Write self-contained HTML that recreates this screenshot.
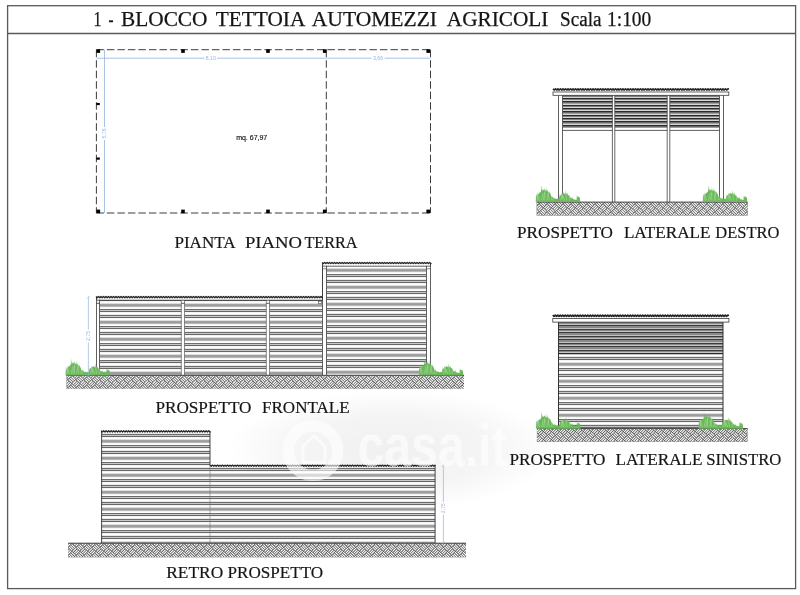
<!DOCTYPE html>
<html><head><meta charset="utf-8"><title>Blocco tettoia automezzi agricoli</title>
<style>html,body{margin:0;padding:0;background:#fff;}body{width:800px;height:595px;overflow:hidden;font-family:"Liberation Sans",sans-serif;}svg{display:block;}svg{will-change:transform;}</style>
</head><body>
<svg width="800" height="595" viewBox="0 0 800 595">
<defs>
<pattern id="gnd" patternUnits="userSpaceOnUse" width="11.3" height="11.3" patternTransform="rotate(45)">
<rect width="11.3" height="11.3" fill="#fff"/>
<g stroke="#3a3a3a" stroke-width="0.95">
<path d="M0 0.95H5.65M0 2.83H5.65M0 4.71H5.65"/>
<path d="M6.6 0V5.65M8.48 0V5.65M10.36 0V5.65"/>
<path d="M0.95 5.65V11.3M2.83 5.65V11.3M4.71 5.65V11.3"/>
<path d="M5.65 6.6H11.3M5.65 8.48H11.3M5.65 10.36H11.3"/>
</g>
</pattern>
<pattern id="slatL" patternUnits="userSpaceOnUse" width="10" height="3.5">
<rect width="10" height="3.5" fill="#fff"/>
<rect y="0" width="10" height="0.8" fill="#6e6e6e"/>
<rect y="0.8" width="10" height="1.0" fill="#c4c4c4"/>
<rect y="1.8" width="10" height="0.6" fill="#ececec"/>
</pattern>
<pattern id="slatD" patternUnits="userSpaceOnUse" width="10" height="3.37">
<rect width="10" height="3.37" fill="#cfcfcf"/>
<rect y="0" width="10" height="1.0" fill="#2a2a2a"/>
<rect y="1.0" width="10" height="1.2" fill="#777"/>
</pattern>
<pattern id="slatM" patternUnits="userSpaceOnUse" width="10" height="3.3">
<rect width="10" height="3.3" fill="#d0d0d0"/>
<rect y="0" width="10" height="1.0" fill="#444"/>
<rect y="1.0" width="10" height="1.2" fill="#8a8a8a"/>
</pattern>
<radialGradient id="halo" cx="0.5" cy="0.5" r="0.5">
<stop offset="0" stop-color="#000" stop-opacity="0.06"/>
<stop offset="0.6" stop-color="#000" stop-opacity="0.04"/>
<stop offset="1" stop-color="#000" stop-opacity="0"/>
</radialGradient>
</defs>
<rect width="800" height="595" fill="#fff"/>
<ellipse cx="392" cy="450" rx="165" ry="60" fill="url(#halo)"/>
<g fill="none" stroke="#5a5a5a" stroke-width="1.3">
<rect x="7.6" y="5.7" width="788" height="582.9"/>
<path d="M7.6 33.5H795.6"/>
</g>
<text x="93.6" y="25.9" font-family="'Liberation Serif', serif" font-size="20.5" fill="#151515" stroke="#151515" stroke-width="0.25" textLength="8.0" lengthAdjust="spacingAndGlyphs">1</text>
<text x="108.6" y="25.9" font-family="'Liberation Serif', serif" font-size="20.5" fill="#151515" stroke="#151515" stroke-width="0.25" textLength="5.0" lengthAdjust="spacingAndGlyphs">-</text>
<text x="121" y="25.9" font-family="'Liberation Serif', serif" font-size="20.5" fill="#151515" stroke="#151515" stroke-width="0.25" textLength="86.5" lengthAdjust="spacingAndGlyphs">BLOCCO</text>
<text x="215.8" y="25.9" font-family="'Liberation Serif', serif" font-size="20.5" fill="#151515" stroke="#151515" stroke-width="0.25" textLength="89.5" lengthAdjust="spacingAndGlyphs">TETTOIA</text>
<text x="311.8" y="25.9" font-family="'Liberation Serif', serif" font-size="20.5" fill="#151515" stroke="#151515" stroke-width="0.25" textLength="125.2" lengthAdjust="spacingAndGlyphs">AUTOMEZZI</text>
<text x="446.8" y="25.9" font-family="'Liberation Serif', serif" font-size="20.5" fill="#151515" stroke="#151515" stroke-width="0.25" textLength="101.6" lengthAdjust="spacingAndGlyphs">AGRICOLI</text>
<text x="560" y="25.9" font-family="'Liberation Serif', serif" font-size="20.5" fill="#151515" stroke="#151515" stroke-width="0.25" textLength="41.5" lengthAdjust="spacingAndGlyphs">Scala</text>
<text x="607" y="25.9" font-family="'Liberation Serif', serif" font-size="20.5" fill="#151515" stroke="#151515" stroke-width="0.25" textLength="44.3" lengthAdjust="spacingAndGlyphs">1:100</text>
<g fill="none" stroke="#333" stroke-width="0.95" stroke-dasharray="7.5 3">
<path d="M96.4 49.7H430.5"/>
<path d="M96.4 213H430.5"/>
<path d="M96.4 49.7V213"/>
<path d="M326.3 49.7V213"/>
<path d="M430.5 49.7V213"/>
</g>
<g fill="none" stroke="#93b4de" stroke-width="0.8">
<path d="M96.4 58.2H204.5M217 58.2H371.5M384.5 58.2H430.5"/>
<path d="M104.5 49.7V127M104.5 140V213"/>
</g>
<g font-family="'Liberation Sans', sans-serif" font-size="5.2" fill="#93b4de" text-anchor="middle">
<text x="210.8" y="60">8,10</text>
<text x="378" y="60">3,66</text>
<text transform="translate(106.2 133.5) rotate(-90)">5,76</text>
</g>
<g fill="#000">
<rect x="96.5" y="49.3" width="3.6" height="3.6"/>
<rect x="96.5" y="209.6" width="3.6" height="3.6"/>
<rect x="181.2" y="49.3" width="3.6" height="3.6"/>
<rect x="181.2" y="209.6" width="3.6" height="3.6"/>
<rect x="266.2" y="49.3" width="3.6" height="3.6"/>
<rect x="266.2" y="209.6" width="3.6" height="3.6"/>
<rect x="322.9" y="49.3" width="3.6" height="3.6"/>
<rect x="322.9" y="209.6" width="3.6" height="3.6"/>
<rect x="426.4" y="49.3" width="3.6" height="3.6"/>
<rect x="426.4" y="209.6" width="3.6" height="3.6"/>
<rect x="96.4" y="102.9" width="3.4" height="2.2"/>
<rect x="96.4" y="157.5" width="3.4" height="2.2"/>
</g>
<text x="251.7" y="139.6" font-family="'Liberation Sans', sans-serif" font-size="7" fill="#111" stroke="#111" stroke-width="0.15" text-anchor="middle">mq. 67,97</text>
<text x="174.4" y="247.6" font-family="'Liberation Serif', serif" font-size="17.3" fill="#151515" stroke="#151515" stroke-width="0.18" textLength="61.2" lengthAdjust="spacingAndGlyphs">PIANTA</text>
<text x="245" y="247.6" font-family="'Liberation Serif', serif" font-size="17.3" fill="#151515" stroke="#151515" stroke-width="0.18" textLength="57.0" lengthAdjust="spacingAndGlyphs">PIANO</text>
<text x="304.4" y="247.6" font-family="'Liberation Serif', serif" font-size="17.3" fill="#151515" stroke="#151515" stroke-width="0.18" textLength="53.2" lengthAdjust="spacingAndGlyphs">TERRA</text>
<clipPath id="sc1"><rect x="99.5" y="300.1" width="223.0" height="75.19999999999999"/></clipPath>
<g clip-path="url(#sc1)" shape-rendering="crispEdges">
<path d="M99 300H323V301H99ZM99 311H323V312H99ZM99 317H323V318H99ZM99 328H323V329H99ZM99 334H323V335H99ZM99 345H323V346H99ZM99 351H323V352H99ZM99 362H323V363H99ZM99 368H323V369H99Z" fill="#666"/>
<path d="M99 301H323V302H99ZM99 307H323V308H99ZM99 312H323V313H99ZM99 318H323V319H99ZM99 324H323V325H99ZM99 329H323V330H99ZM99 335H323V336H99ZM99 341H323V342H99ZM99 346H323V347H99ZM99 352H323V353H99ZM99 358H323V359H99ZM99 363H323V364H99ZM99 369H323V370H99ZM99 375H323V376H99Z" fill="#f4f4f4"/>
<path d="M99 302H323V303H99ZM99 308H323V309H99ZM99 313H323V314H99ZM99 319H323V320H99ZM99 325H323V326H99ZM99 330H323V331H99ZM99 336H323V337H99ZM99 342H323V343H99ZM99 347H323V348H99ZM99 353H323V354H99ZM99 359H323V360H99ZM99 364H323V365H99ZM99 370H323V371H99Z" fill="#fff"/>
<path d="M99 303H323V304H99ZM99 320H323V321H99ZM99 337H323V338H99ZM99 354H323V355H99ZM99 371H323V372H99Z" fill="#dcdcdc"/>
<path d="M99 304H323V305H99ZM99 321H323V322H99ZM99 338H323V339H99ZM99 355H323V356H99ZM99 372H323V373H99Z" fill="#a2a2a2"/>
<path d="M99 305H323V306H99ZM99 322H323V323H99ZM99 339H323V340H99ZM99 356H323V357H99ZM99 373H323V374H99Z" fill="#9c9c9c"/>
<path d="M99 306H323V307H99ZM99 323H323V324H99ZM99 340H323V341H99ZM99 357H323V358H99ZM99 374H323V375H99Z" fill="#b8b8b8"/>
<path d="M99 309H323V310H99ZM99 315H323V316H99ZM99 326H323V327H99ZM99 332H323V333H99ZM99 343H323V344H99ZM99 349H323V350H99ZM99 360H323V361H99ZM99 366H323V367H99Z" fill="#6c6c6c"/>
<path d="M99 310H323V311H99ZM99 316H323V317H99ZM99 327H323V328H99ZM99 333H323V334H99ZM99 344H323V345H99ZM99 350H323V351H99ZM99 361H323V362H99ZM99 367H323V368H99Z" fill="#c8c8c8"/>
<path d="M99 314H323V315H99ZM99 331H323V332H99ZM99 348H323V349H99ZM99 365H323V366H99Z" fill="#e8e8e8"/>
</g>
<clipPath id="sc2"><rect x="326.5" y="266.1" width="100.0" height="109.19999999999999"/></clipPath>
<g clip-path="url(#sc2)" shape-rendering="crispEdges">
<path d="M326 266H427V267H326ZM326 272H427V273H326ZM326 277H427V278H326ZM326 283H427V284H326ZM326 289H427V290H326ZM326 294H427V295H326ZM326 300H427V301H326ZM326 306H427V307H326ZM326 311H427V312H326ZM326 317H427V318H326ZM326 323H427V324H326ZM326 328H427V329H326ZM326 334H427V335H326ZM326 340H427V341H326ZM326 345H427V346H326ZM326 351H427V352H326ZM326 357H427V358H326ZM326 362H427V363H326ZM326 368H427V369H326ZM326 374H427V375H326Z" fill="#f4f4f4"/>
<path d="M326 267H427V268H326ZM326 273H427V274H326ZM326 278H427V279H326ZM326 284H427V285H326ZM326 290H427V291H326ZM326 295H427V296H326ZM326 301H427V302H326ZM326 307H427V308H326ZM326 312H427V313H326ZM326 318H427V319H326ZM326 324H427V325H326ZM326 329H427V330H326ZM326 335H427V336H326ZM326 341H427V342H326ZM326 346H427V347H326ZM326 352H427V353H326ZM326 358H427V359H326ZM326 363H427V364H326ZM326 369H427V370H326ZM326 375H427V376H326Z" fill="#fff"/>
<path d="M326 268H427V269H326ZM326 285H427V286H326ZM326 302H427V303H326ZM326 319H427V320H326ZM326 336H427V337H326ZM326 353H427V354H326ZM326 370H427V371H326Z" fill="#dcdcdc"/>
<path d="M326 269H427V270H326ZM326 286H427V287H326ZM326 303H427V304H326ZM326 320H427V321H326ZM326 337H427V338H326ZM326 354H427V355H326ZM326 371H427V372H326Z" fill="#a2a2a2"/>
<path d="M326 270H427V271H326ZM326 287H427V288H326ZM326 304H427V305H326ZM326 321H427V322H326ZM326 338H427V339H326ZM326 355H427V356H326ZM326 372H427V373H326Z" fill="#9c9c9c"/>
<path d="M326 271H427V272H326ZM326 288H427V289H326ZM326 305H427V306H326ZM326 322H427V323H326ZM326 339H427V340H326ZM326 356H427V357H326ZM326 373H427V374H326Z" fill="#b8b8b8"/>
<path d="M326 274H427V275H326ZM326 280H427V281H326ZM326 291H427V292H326ZM326 297H427V298H326ZM326 308H427V309H326ZM326 314H427V315H326ZM326 325H427V326H326ZM326 331H427V332H326ZM326 342H427V343H326ZM326 348H427V349H326ZM326 359H427V360H326ZM326 365H427V366H326Z" fill="#6c6c6c"/>
<path d="M326 275H427V276H326ZM326 281H427V282H326ZM326 292H427V293H326ZM326 298H427V299H326ZM326 309H427V310H326ZM326 315H427V316H326ZM326 326H427V327H326ZM326 332H427V333H326ZM326 343H427V344H326ZM326 349H427V350H326ZM326 360H427V361H326ZM326 366H427V367H326Z" fill="#c8c8c8"/>
<path d="M326 276H427V277H326ZM326 282H427V283H326ZM326 293H427V294H326ZM326 299H427V300H326ZM326 310H427V311H326ZM326 316H427V317H326ZM326 327H427V328H326ZM326 333H427V334H326ZM326 344H427V345H326ZM326 350H427V351H326ZM326 361H427V362H326ZM326 367H427V368H326Z" fill="#666"/>
<path d="M326 279H427V280H326ZM326 296H427V297H326ZM326 313H427V314H326ZM326 330H427V331H326ZM326 347H427V348H326ZM326 364H427V365H326Z" fill="#e8e8e8"/>
</g>
<rect x="96.5" y="297.2" width="3.0" height="78.10000000000002" fill="#fff"/>
<path d="M96.5 297.2V375.3" stroke="#444" stroke-width="0.85" fill="none"/>
<path d="M99.5 297.2V375.3" stroke="#444" stroke-width="0.85" fill="none"/>
<rect x="322.5" y="263" width="4.0" height="112.30000000000001" fill="#fff"/>
<path d="M322.5 263V375.3" stroke="#444" stroke-width="0.85" fill="none"/>
<path d="M326.5 263V375.3" stroke="#444" stroke-width="0.85" fill="none"/>
<rect x="426.5" y="263" width="4.0" height="112.30000000000001" fill="#fff"/>
<path d="M426.5 263V375.3" stroke="#444" stroke-width="0.85" fill="none"/>
<path d="M430.5 263V375.3" stroke="#444" stroke-width="0.85" fill="none"/>
<rect x="181.3" y="300.1" width="3.1999999999999886" height="75.19999999999999" fill="#fff"/>
<path d="M181.3 300.1V375.3" stroke="#5a5a5a" stroke-width="0.7" fill="none"/>
<path d="M184.5 300.1V375.3" stroke="#5a5a5a" stroke-width="0.7" fill="none"/>
<rect x="266.3" y="300.1" width="3.1999999999999886" height="75.19999999999999" fill="#fff"/>
<path d="M266.3 300.1V375.3" stroke="#5a5a5a" stroke-width="0.7" fill="none"/>
<path d="M269.5 300.1V375.3" stroke="#5a5a5a" stroke-width="0.7" fill="none"/>
<rect x="96.5" y="297.2" width="226" height="2.6" fill="#fff"/>
<rect x="322.5" y="263" width="108" height="2.8" fill="#fff"/>
<path d="M96.5 300.2H322.5" stroke="#3a3a3a" stroke-width="0.8" fill="none"/>
<path d="M322.5 266.2H430.5" stroke="#3a3a3a" stroke-width="0.8" fill="none"/>
<path d="M96.5 297V300.2" stroke="#3a3a3a" stroke-width="0.9" fill="none"/>
<path d="M322.5 263V300.2" stroke="#3a3a3a" stroke-width="0.9" fill="none"/>
<path d="M430.5 263V266" stroke="#3a3a3a" stroke-width="0.9" fill="none"/>
<polyline points="96.0 296.50 97.2 297.70 98.5 296.50 99.8 297.70 101.0 296.50 102.2 297.70 103.5 296.50 104.8 297.70 106.0 296.50 107.2 297.70 108.5 296.50 109.8 297.70 111.0 296.50 112.2 297.70 113.5 296.50 114.8 297.70 116.0 296.50 117.2 297.70 118.5 296.50 119.8 297.70 121.0 296.50 122.2 297.70 123.5 296.50 124.8 297.70 126.0 296.50 127.2 297.70 128.5 296.50 129.8 297.70 131.0 296.50 132.2 297.70 133.5 296.50 134.8 297.70 136.0 296.50 137.2 297.70 138.5 296.50 139.8 297.70 141.0 296.50 142.2 297.70 143.5 296.50 144.8 297.70 146.0 296.50 147.2 297.70 148.5 296.50 149.8 297.70 151.0 296.50 152.2 297.70 153.5 296.50 154.8 297.70 156.0 296.50 157.2 297.70 158.5 296.50 159.8 297.70 161.0 296.50 162.2 297.70 163.5 296.50 164.8 297.70 166.0 296.50 167.2 297.70 168.5 296.50 169.8 297.70 171.0 296.50 172.2 297.70 173.5 296.50 174.8 297.70 176.0 296.50 177.2 297.70 178.5 296.50 179.8 297.70 181.0 296.50 182.2 297.70 183.5 296.50 184.8 297.70 186.0 296.50 187.2 297.70 188.5 296.50 189.8 297.70 191.0 296.50 192.2 297.70 193.5 296.50 194.8 297.70 196.0 296.50 197.2 297.70 198.5 296.50 199.8 297.70 201.0 296.50 202.2 297.70 203.5 296.50 204.8 297.70 206.0 296.50 207.2 297.70 208.5 296.50 209.8 297.70 211.0 296.50 212.2 297.70 213.5 296.50 214.8 297.70 216.0 296.50 217.2 297.70 218.5 296.50 219.8 297.70 221.0 296.50 222.2 297.70 223.5 296.50 224.8 297.70 226.0 296.50 227.2 297.70 228.5 296.50 229.8 297.70 231.0 296.50 232.2 297.70 233.5 296.50 234.8 297.70 236.0 296.50 237.2 297.70 238.5 296.50 239.8 297.70 241.0 296.50 242.2 297.70 243.5 296.50 244.8 297.70 246.0 296.50 247.2 297.70 248.5 296.50 249.8 297.70 251.0 296.50 252.2 297.70 253.5 296.50 254.8 297.70 256.0 296.50 257.2 297.70 258.5 296.50 259.8 297.70 261.0 296.50 262.2 297.70 263.5 296.50 264.8 297.70 266.0 296.50 267.2 297.70 268.5 296.50 269.8 297.70 271.0 296.50 272.2 297.70 273.5 296.50 274.8 297.70 276.0 296.50 277.2 297.70 278.5 296.50 279.8 297.70 281.0 296.50 282.2 297.70 283.5 296.50 284.8 297.70 286.0 296.50 287.2 297.70 288.5 296.50 289.8 297.70 291.0 296.50 292.2 297.70 293.5 296.50 294.8 297.70 296.0 296.50 297.2 297.70 298.5 296.50 299.8 297.70 301.0 296.50 302.2 297.70 303.5 296.50 304.8 297.70 306.0 296.50 307.2 297.70 308.5 296.50 309.8 297.70 311.0 296.50 312.2 297.70 313.5 296.50 314.8 297.70 316.0 296.50 317.2 297.70 318.5 296.50 319.8 297.70 321.0 296.50 322.2 297.70 322.6 297.10" fill="none" stroke="#262626" stroke-width="1.3" stroke-linejoin="round"/>
<polyline points="322.1 262.40 323.4 263.60 324.6 262.40 325.9 263.60 327.1 262.40 328.4 263.60 329.6 262.40 330.9 263.60 332.1 262.40 333.4 263.60 334.6 262.40 335.9 263.60 337.1 262.40 338.4 263.60 339.6 262.40 340.9 263.60 342.1 262.40 343.4 263.60 344.6 262.40 345.9 263.60 347.1 262.40 348.4 263.60 349.6 262.40 350.9 263.60 352.1 262.40 353.4 263.60 354.6 262.40 355.9 263.60 357.1 262.40 358.4 263.60 359.6 262.40 360.9 263.60 362.1 262.40 363.4 263.60 364.6 262.40 365.9 263.60 367.1 262.40 368.4 263.60 369.6 262.40 370.9 263.60 372.1 262.40 373.4 263.60 374.6 262.40 375.9 263.60 377.1 262.40 378.4 263.60 379.6 262.40 380.9 263.60 382.1 262.40 383.4 263.60 384.6 262.40 385.9 263.60 387.1 262.40 388.4 263.60 389.6 262.40 390.9 263.60 392.1 262.40 393.4 263.60 394.6 262.40 395.9 263.60 397.1 262.40 398.4 263.60 399.6 262.40 400.9 263.60 402.1 262.40 403.4 263.60 404.6 262.40 405.9 263.60 407.1 262.40 408.4 263.60 409.6 262.40 410.9 263.60 412.1 262.40 413.4 263.60 414.6 262.40 415.9 263.60 417.1 262.40 418.4 263.60 419.6 262.40 420.9 263.60 422.1 262.40 423.4 263.60 424.6 262.40 425.9 263.60 427.1 262.40 428.4 263.60 429.6 262.40 430.9 263.60 431.0 263.00" fill="none" stroke="#262626" stroke-width="1.3" stroke-linejoin="round"/>
<path d="M96.5 303.3H99.5" stroke="#333" stroke-width="0.8" fill="none"/>
<path d="M181.3 303.3H184.5" stroke="#333" stroke-width="0.8" fill="none"/>
<path d="M266.3 303.3H269.5" stroke="#333" stroke-width="0.8" fill="none"/>
<rect x="318.6" y="301.2" width="3.2" height="2.2" fill="#fff" stroke="#444" stroke-width="0.6"/>
<path d="M322.5 268.8H326.5" stroke="#555" stroke-width="0.7" fill="none"/>
<path d="M426.5 268.8H430.5" stroke="#555" stroke-width="0.7" fill="none"/>
<clipPath id="gc3"><rect x="66.4" y="375.3" width="397.6" height="13.399999999999977"/></clipPath>
<rect x="66.4" y="375.3" width="397.6" height="13.399999999999977" fill="#505050"/>
<path clip-path="url(#gc3)" d="M63.5 368.5L67.0 372.0M62.2 369.8L65.7 373.3M60.8 371.1L64.3 374.6M71.5 368.5L75.0 372.0M70.2 369.8L73.7 373.3M68.8 371.1L72.3 374.6M68.3 372.5L64.8 376.0M69.7 373.8L66.2 377.3M71.0 375.1L67.5 378.6M63.5 376.5L67.0 380.0M62.2 377.8L65.7 381.3M60.8 379.1L64.3 382.6M79.5 368.5L83.0 372.0M78.2 369.8L81.7 373.3M76.8 371.1L80.3 374.6M76.3 372.5L72.8 376.0M77.7 373.8L74.2 377.3M79.0 375.1L75.5 378.6M71.5 376.5L75.0 380.0M70.2 377.8L73.7 381.3M68.8 379.1L72.3 382.6M68.3 380.5L64.8 384.0M69.7 381.8L66.2 385.3M71.0 383.1L67.5 386.6M63.5 384.4L67.0 387.9M62.2 385.8L65.7 389.3M60.8 387.1L64.3 390.6M87.5 368.5L91.0 372.0M86.1 369.8L89.6 373.3M84.8 371.1L88.3 374.6M84.3 372.5L80.8 376.0M85.6 373.8L82.1 377.3M87.0 375.1L83.5 378.6M79.5 376.5L83.0 380.0M78.2 377.8L81.7 381.3M76.8 379.1L80.3 382.6M76.3 380.5L72.8 384.0M77.7 381.8L74.2 385.3M79.0 383.1L75.5 386.6M71.5 384.4L75.0 387.9M70.2 385.8L73.7 389.3M68.8 387.1L72.3 390.6M68.3 388.4L64.8 391.9M69.7 389.8L66.2 393.3M71.0 391.1L67.5 394.6M95.5 368.5L99.0 372.0M94.1 369.8L97.6 373.3M92.8 371.1L96.3 374.6M92.3 372.5L88.8 376.0M93.6 373.8L90.1 377.3M95.0 375.1L91.5 378.6M87.5 376.5L91.0 380.0M86.1 377.8L89.6 381.3M84.8 379.1L88.3 382.6M84.3 380.5L80.8 384.0M85.6 381.8L82.1 385.3M87.0 383.1L83.5 386.6M79.5 384.4L83.0 387.9M78.2 385.8L81.7 389.3M76.8 387.1L80.3 390.6M76.3 388.4L72.8 391.9M77.7 389.8L74.2 393.3M79.0 391.1L75.5 394.6M103.5 368.5L107.0 372.0M102.1 369.8L105.6 373.3M100.8 371.1L104.3 374.6M100.3 372.5L96.8 376.0M101.6 373.8L98.1 377.3M103.0 375.1L99.5 378.6M95.5 376.5L99.0 380.0M94.1 377.8L97.6 381.3M92.8 379.1L96.3 382.6M92.3 380.5L88.8 384.0M93.6 381.8L90.1 385.3M95.0 383.1L91.5 386.6M87.5 384.4L91.0 387.9M86.1 385.8L89.6 389.3M84.8 387.1L88.3 390.6M84.3 388.4L80.8 391.9M85.6 389.8L82.1 393.3M87.0 391.1L83.5 394.6M111.4 368.5L114.9 372.0M110.1 369.8L113.6 373.3M108.8 371.1L112.3 374.6M108.3 372.5L104.8 376.0M109.6 373.8L106.1 377.3M111.0 375.1L107.5 378.6M103.5 376.5L107.0 380.0M102.1 377.8L105.6 381.3M100.8 379.1L104.3 382.6M100.3 380.5L96.8 384.0M101.6 381.8L98.1 385.3M103.0 383.1L99.5 386.6M95.5 384.4L99.0 387.9M94.1 385.8L97.6 389.3M92.8 387.1L96.3 390.6M92.3 388.4L88.8 391.9M93.6 389.8L90.1 393.3M95.0 391.1L91.5 394.6M119.4 368.5L122.9 372.0M118.1 369.8L121.6 373.3M116.8 371.1L120.3 374.6M116.3 372.5L112.8 376.0M117.6 373.8L114.1 377.3M118.9 375.1L115.4 378.6M111.4 376.5L114.9 380.0M110.1 377.8L113.6 381.3M108.8 379.1L112.3 382.6M108.3 380.5L104.8 384.0M109.6 381.8L106.1 385.3M111.0 383.1L107.5 386.6M103.5 384.4L107.0 387.9M102.1 385.8L105.6 389.3M100.8 387.1L104.3 390.6M100.3 388.4L96.8 391.9M101.6 389.8L98.1 393.3M103.0 391.1L99.5 394.6M127.4 368.5L130.9 372.0M126.1 369.8L129.6 373.3M124.8 371.1L128.3 374.6M124.3 372.5L120.8 376.0M125.6 373.8L122.1 377.3M126.9 375.1L123.4 378.6M119.4 376.5L122.9 380.0M118.1 377.8L121.6 381.3M116.8 379.1L120.3 382.6M116.3 380.5L112.8 384.0M117.6 381.8L114.1 385.3M118.9 383.1L115.4 386.6M111.4 384.4L114.9 387.9M110.1 385.8L113.6 389.3M108.8 387.1L112.3 390.6M108.3 388.4L104.8 391.9M109.6 389.8L106.1 393.3M111.0 391.1L107.5 394.6M135.4 368.5L138.9 372.0M134.1 369.8L137.6 373.3M132.8 371.1L136.3 374.6M132.3 372.5L128.8 376.0M133.6 373.8L130.1 377.3M134.9 375.1L131.4 378.6M127.4 376.5L130.9 380.0M126.1 377.8L129.6 381.3M124.8 379.1L128.3 382.6M124.3 380.5L120.8 384.0M125.6 381.8L122.1 385.3M126.9 383.1L123.4 386.6M119.4 384.4L122.9 387.9M118.1 385.8L121.6 389.3M116.8 387.1L120.3 390.6M116.3 388.4L112.8 391.9M117.6 389.8L114.1 393.3M118.9 391.1L115.4 394.6M143.4 368.5L146.9 372.0M142.1 369.8L145.6 373.3M140.7 371.1L144.2 374.6M140.2 372.5L136.7 376.0M141.6 373.8L138.1 377.3M142.9 375.1L139.4 378.6M135.4 376.5L138.9 380.0M134.1 377.8L137.6 381.3M132.8 379.1L136.3 382.6M132.3 380.5L128.8 384.0M133.6 381.8L130.1 385.3M134.9 383.1L131.4 386.6M127.4 384.4L130.9 387.9M126.1 385.8L129.6 389.3M124.8 387.1L128.3 390.6M124.3 388.4L120.8 391.9M125.6 389.8L122.1 393.3M126.9 391.1L123.4 394.6M151.4 368.5L154.9 372.0M150.1 369.8L153.6 373.3M148.7 371.1L152.2 374.6M148.2 372.5L144.7 376.0M149.6 373.8L146.1 377.3M150.9 375.1L147.4 378.6M143.4 376.5L146.9 380.0M142.1 377.8L145.6 381.3M140.7 379.1L144.2 382.6M140.2 380.5L136.7 384.0M141.6 381.8L138.1 385.3M142.9 383.1L139.4 386.6M135.4 384.4L138.9 387.9M134.1 385.8L137.6 389.3M132.8 387.1L136.3 390.6M132.3 388.4L128.8 391.9M133.6 389.8L130.1 393.3M134.9 391.1L131.4 394.6M159.4 368.5L162.9 372.0M158.1 369.8L161.6 373.3M156.7 371.1L160.2 374.6M156.2 372.5L152.7 376.0M157.6 373.8L154.1 377.3M158.9 375.1L155.4 378.6M151.4 376.5L154.9 380.0M150.1 377.8L153.6 381.3M148.7 379.1L152.2 382.6M148.2 380.5L144.7 384.0M149.6 381.8L146.1 385.3M150.9 383.1L147.4 386.6M143.4 384.4L146.9 387.9M142.1 385.8L145.6 389.3M140.7 387.1L144.2 390.6M140.2 388.4L136.7 391.9M141.6 389.8L138.1 393.3M142.9 391.1L139.4 394.6M167.4 368.5L170.9 372.0M166.0 369.8L169.5 373.3M164.7 371.1L168.2 374.6M164.2 372.5L160.7 376.0M165.6 373.8L162.1 377.3M166.9 375.1L163.4 378.6M159.4 376.5L162.9 380.0M158.1 377.8L161.6 381.3M156.7 379.1L160.2 382.6M156.2 380.5L152.7 384.0M157.6 381.8L154.1 385.3M158.9 383.1L155.4 386.6M151.4 384.4L154.9 387.9M150.1 385.8L153.6 389.3M148.7 387.1L152.2 390.6M148.2 388.4L144.7 391.9M149.6 389.8L146.1 393.3M150.9 391.1L147.4 394.6M175.4 368.5L178.9 372.0M174.0 369.8L177.5 373.3M172.7 371.1L176.2 374.6M172.2 372.5L168.7 376.0M173.5 373.8L170.0 377.3M174.9 375.1L171.4 378.6M167.4 376.5L170.9 380.0M166.0 377.8L169.5 381.3M164.7 379.1L168.2 382.6M164.2 380.5L160.7 384.0M165.6 381.8L162.1 385.3M166.9 383.1L163.4 386.6M159.4 384.4L162.9 387.9M158.1 385.8L161.6 389.3M156.7 387.1L160.2 390.6M156.2 388.4L152.7 391.9M157.6 389.8L154.1 393.3M158.9 391.1L155.4 394.6M183.4 368.5L186.9 372.0M182.0 369.8L185.5 373.3M180.7 371.1L184.2 374.6M180.2 372.5L176.7 376.0M181.5 373.8L178.0 377.3M182.9 375.1L179.4 378.6M175.4 376.5L178.9 380.0M174.0 377.8L177.5 381.3M172.7 379.1L176.2 382.6M172.2 380.5L168.7 384.0M173.5 381.8L170.0 385.3M174.9 383.1L171.4 386.6M167.4 384.4L170.9 387.9M166.0 385.8L169.5 389.3M164.7 387.1L168.2 390.6M164.2 388.4L160.7 391.9M165.6 389.8L162.1 393.3M166.9 391.1L163.4 394.6M191.3 368.5L194.8 372.0M190.0 369.8L193.5 373.3M188.7 371.1L192.2 374.6M188.2 372.5L184.7 376.0M189.5 373.8L186.0 377.3M190.9 375.1L187.4 378.6M183.4 376.5L186.9 380.0M182.0 377.8L185.5 381.3M180.7 379.1L184.2 382.6M180.2 380.5L176.7 384.0M181.5 381.8L178.0 385.3M182.9 383.1L179.4 386.6M175.4 384.4L178.9 387.9M174.0 385.8L177.5 389.3M172.7 387.1L176.2 390.6M172.2 388.4L168.7 391.9M173.5 389.8L170.0 393.3M174.9 391.1L171.4 394.6M199.3 368.5L202.8 372.0M198.0 369.8L201.5 373.3M196.7 371.1L200.2 374.6M196.2 372.5L192.7 376.0M197.5 373.8L194.0 377.3M198.8 375.1L195.3 378.6M191.3 376.5L194.8 380.0M190.0 377.8L193.5 381.3M188.7 379.1L192.2 382.6M188.2 380.5L184.7 384.0M189.5 381.8L186.0 385.3M190.9 383.1L187.4 386.6M183.4 384.4L186.9 387.9M182.0 385.8L185.5 389.3M180.7 387.1L184.2 390.6M180.2 388.4L176.7 391.9M181.5 389.8L178.0 393.3M182.9 391.1L179.4 394.6M207.3 368.5L210.8 372.0M206.0 369.8L209.5 373.3M204.7 371.1L208.2 374.6M204.2 372.5L200.7 376.0M205.5 373.8L202.0 377.3M206.8 375.1L203.3 378.6M199.3 376.5L202.8 380.0M198.0 377.8L201.5 381.3M196.7 379.1L200.2 382.6M196.2 380.5L192.7 384.0M197.5 381.8L194.0 385.3M198.8 383.1L195.3 386.6M191.3 384.4L194.8 387.9M190.0 385.8L193.5 389.3M188.7 387.1L192.2 390.6M188.2 388.4L184.7 391.9M189.5 389.8L186.0 393.3M190.9 391.1L187.4 394.6M215.3 368.5L218.8 372.0M214.0 369.8L217.5 373.3M212.7 371.1L216.2 374.6M212.2 372.5L208.7 376.0M213.5 373.8L210.0 377.3M214.8 375.1L211.3 378.6M207.3 376.5L210.8 380.0M206.0 377.8L209.5 381.3M204.7 379.1L208.2 382.6M204.2 380.5L200.7 384.0M205.5 381.8L202.0 385.3M206.8 383.1L203.3 386.6M199.3 384.4L202.8 387.9M198.0 385.8L201.5 389.3M196.7 387.1L200.2 390.6M196.2 388.4L192.7 391.9M197.5 389.8L194.0 393.3M198.8 391.1L195.3 394.6M223.3 368.5L226.8 372.0M222.0 369.8L225.5 373.3M220.6 371.1L224.1 374.6M220.2 372.5L216.7 376.0M221.5 373.8L218.0 377.3M222.8 375.1L219.3 378.6M215.3 376.5L218.8 380.0M214.0 377.8L217.5 381.3M212.7 379.1L216.2 382.6M212.2 380.5L208.7 384.0M213.5 381.8L210.0 385.3M214.8 383.1L211.3 386.6M207.3 384.4L210.8 387.9M206.0 385.8L209.5 389.3M204.7 387.1L208.2 390.6M204.2 388.4L200.7 391.9M205.5 389.8L202.0 393.3M206.8 391.1L203.3 394.6M231.3 368.5L234.8 372.0M230.0 369.8L233.5 373.3M228.6 371.1L232.1 374.6M228.1 372.5L224.6 376.0M229.5 373.8L226.0 377.3M230.8 375.1L227.3 378.6M223.3 376.5L226.8 380.0M222.0 377.8L225.5 381.3M220.6 379.1L224.1 382.6M220.2 380.5L216.7 384.0M221.5 381.8L218.0 385.3M222.8 383.1L219.3 386.6M215.3 384.4L218.8 387.9M214.0 385.8L217.5 389.3M212.7 387.1L216.2 390.6M212.2 388.4L208.7 391.9M213.5 389.8L210.0 393.3M214.8 391.1L211.3 394.6M239.3 368.5L242.8 372.0M238.0 369.8L241.5 373.3M236.6 371.1L240.1 374.6M236.1 372.5L232.6 376.0M237.5 373.8L234.0 377.3M238.8 375.1L235.3 378.6M231.3 376.5L234.8 380.0M230.0 377.8L233.5 381.3M228.6 379.1L232.1 382.6M228.1 380.5L224.6 384.0M229.5 381.8L226.0 385.3M230.8 383.1L227.3 386.6M223.3 384.4L226.8 387.9M222.0 385.8L225.5 389.3M220.6 387.1L224.1 390.6M220.2 388.4L216.7 391.9M221.5 389.8L218.0 393.3M222.8 391.1L219.3 394.6M247.3 368.5L250.8 372.0M245.9 369.8L249.4 373.3M244.6 371.1L248.1 374.6M244.1 372.5L240.6 376.0M245.5 373.8L242.0 377.3M246.8 375.1L243.3 378.6M239.3 376.5L242.8 380.0M238.0 377.8L241.5 381.3M236.6 379.1L240.1 382.6M236.1 380.5L232.6 384.0M237.5 381.8L234.0 385.3M238.8 383.1L235.3 386.6M231.3 384.4L234.8 387.9M230.0 385.8L233.5 389.3M228.6 387.1L232.1 390.6M228.1 388.4L224.6 391.9M229.5 389.8L226.0 393.3M230.8 391.1L227.3 394.6M255.3 368.5L258.8 372.0M253.9 369.8L257.4 373.3M252.6 371.1L256.1 374.6M252.1 372.5L248.6 376.0M253.4 373.8L249.9 377.3M254.8 375.1L251.3 378.6M247.3 376.5L250.8 380.0M245.9 377.8L249.4 381.3M244.6 379.1L248.1 382.6M244.1 380.5L240.6 384.0M245.5 381.8L242.0 385.3M246.8 383.1L243.3 386.6M239.3 384.4L242.8 387.9M238.0 385.8L241.5 389.3M236.6 387.1L240.1 390.6M236.1 388.4L232.6 391.9M237.5 389.8L234.0 393.3M238.8 391.1L235.3 394.6M263.3 368.5L266.8 372.0M261.9 369.8L265.4 373.3M260.6 371.1L264.1 374.6M260.1 372.5L256.6 376.0M261.4 373.8L257.9 377.3M262.8 375.1L259.3 378.6M255.3 376.5L258.8 380.0M253.9 377.8L257.4 381.3M252.6 379.1L256.1 382.6M252.1 380.5L248.6 384.0M253.4 381.8L249.9 385.3M254.8 383.1L251.3 386.6M247.3 384.4L250.8 387.9M245.9 385.8L249.4 389.3M244.6 387.1L248.1 390.6M244.1 388.4L240.6 391.9M245.5 389.8L242.0 393.3M246.8 391.1L243.3 394.6M271.3 368.5L274.8 372.0M269.9 369.8L273.4 373.3M268.6 371.1L272.1 374.6M268.1 372.5L264.6 376.0M269.4 373.8L265.9 377.3M270.8 375.1L267.3 378.6M263.3 376.5L266.8 380.0M261.9 377.8L265.4 381.3M260.6 379.1L264.1 382.6M260.1 380.5L256.6 384.0M261.4 381.8L257.9 385.3M262.8 383.1L259.3 386.6M255.3 384.4L258.8 387.9M253.9 385.8L257.4 389.3M252.6 387.1L256.1 390.6M252.1 388.4L248.6 391.9M253.4 389.8L249.9 393.3M254.8 391.1L251.3 394.6M279.2 368.5L282.7 372.0M277.9 369.8L281.4 373.3M276.6 371.1L280.1 374.6M276.1 372.5L272.6 376.0M277.4 373.8L273.9 377.3M278.7 375.1L275.2 378.6M271.3 376.5L274.8 380.0M269.9 377.8L273.4 381.3M268.6 379.1L272.1 382.6M268.1 380.5L264.6 384.0M269.4 381.8L265.9 385.3M270.8 383.1L267.3 386.6M263.3 384.4L266.8 387.9M261.9 385.8L265.4 389.3M260.6 387.1L264.1 390.6M260.1 388.4L256.6 391.9M261.4 389.8L257.9 393.3M262.8 391.1L259.3 394.6M287.2 368.5L290.7 372.0M285.9 369.8L289.4 373.3M284.6 371.1L288.1 374.6M284.1 372.5L280.6 376.0M285.4 373.8L281.9 377.3M286.7 375.1L283.2 378.6M279.2 376.5L282.7 380.0M277.9 377.8L281.4 381.3M276.6 379.1L280.1 382.6M276.1 380.5L272.6 384.0M277.4 381.8L273.9 385.3M278.7 383.1L275.2 386.6M271.3 384.4L274.8 387.9M269.9 385.8L273.4 389.3M268.6 387.1L272.1 390.6M268.1 388.4L264.6 391.9M269.4 389.8L265.9 393.3M270.8 391.1L267.3 394.6M295.2 368.5L298.7 372.0M293.9 369.8L297.4 373.3M292.6 371.1L296.1 374.6M292.1 372.5L288.6 376.0M293.4 373.8L289.9 377.3M294.7 375.1L291.2 378.6M287.2 376.5L290.7 380.0M285.9 377.8L289.4 381.3M284.6 379.1L288.1 382.6M284.1 380.5L280.6 384.0M285.4 381.8L281.9 385.3M286.7 383.1L283.2 386.6M279.2 384.4L282.7 387.9M277.9 385.8L281.4 389.3M276.6 387.1L280.1 390.6M276.1 388.4L272.6 391.9M277.4 389.8L273.9 393.3M278.7 391.1L275.2 394.6M303.2 368.5L306.7 372.0M301.9 369.8L305.4 373.3M300.5 371.1L304.1 374.6M300.1 372.5L296.6 376.0M301.4 373.8L297.9 377.3M302.7 375.1L299.2 378.6M295.2 376.5L298.7 380.0M293.9 377.8L297.4 381.3M292.6 379.1L296.1 382.6M292.1 380.5L288.6 384.0M293.4 381.8L289.9 385.3M294.7 383.1L291.2 386.6M287.2 384.4L290.7 387.9M285.9 385.8L289.4 389.3M284.6 387.1L288.1 390.6M284.1 388.4L280.6 391.9M285.4 389.8L281.9 393.3M286.7 391.1L283.2 394.6M311.2 368.5L314.7 372.0M309.9 369.8L313.4 373.3M308.5 371.1L312.0 374.6M308.0 372.5L304.5 376.0M309.4 373.8L305.9 377.3M310.7 375.1L307.2 378.6M303.2 376.5L306.7 380.0M301.9 377.8L305.4 381.3M300.5 379.1L304.1 382.6M300.1 380.5L296.6 384.0M301.4 381.8L297.9 385.3M302.7 383.1L299.2 386.6M295.2 384.4L298.7 387.9M293.9 385.8L297.4 389.3M292.6 387.1L296.1 390.6M292.1 388.4L288.6 391.9M293.4 389.8L289.9 393.3M294.7 391.1L291.2 394.6M319.2 368.5L322.7 372.0M317.9 369.8L321.4 373.3M316.5 371.1L320.0 374.6M316.0 372.5L312.5 376.0M317.4 373.8L313.9 377.3M318.7 375.1L315.2 378.6M311.2 376.5L314.7 380.0M309.9 377.8L313.4 381.3M308.5 379.1L312.0 382.6M308.0 380.5L304.5 384.0M309.4 381.8L305.9 385.3M310.7 383.1L307.2 386.6M303.2 384.4L306.7 387.9M301.9 385.8L305.4 389.3M300.5 387.1L304.1 390.6M300.1 388.4L296.6 391.9M301.4 389.8L297.9 393.3M302.7 391.1L299.2 394.6M327.2 368.5L330.7 372.0M325.9 369.8L329.4 373.3M324.5 371.1L328.0 374.6M324.0 372.5L320.5 376.0M325.4 373.8L321.9 377.3M326.7 375.1L323.2 378.6M319.2 376.5L322.7 380.0M317.9 377.8L321.4 381.3M316.5 379.1L320.0 382.6M316.0 380.5L312.5 384.0M317.4 381.8L313.9 385.3M318.7 383.1L315.2 386.6M311.2 384.4L314.7 387.9M309.9 385.8L313.4 389.3M308.5 387.1L312.0 390.6M308.0 388.4L304.5 391.9M309.4 389.8L305.9 393.3M310.7 391.1L307.2 394.6M335.2 368.5L338.7 372.0M333.8 369.8L337.3 373.3M332.5 371.1L336.0 374.6M332.0 372.5L328.5 376.0M333.3 373.8L329.8 377.3M334.7 375.1L331.2 378.6M327.2 376.5L330.7 380.0M325.9 377.8L329.4 381.3M324.5 379.1L328.0 382.6M324.0 380.5L320.5 384.0M325.4 381.8L321.9 385.3M326.7 383.1L323.2 386.6M319.2 384.4L322.7 387.9M317.9 385.8L321.4 389.3M316.5 387.1L320.0 390.6M316.0 388.4L312.5 391.9M317.4 389.8L313.9 393.3M318.7 391.1L315.2 394.6M343.2 368.5L346.7 372.0M341.8 369.8L345.3 373.3M340.5 371.1L344.0 374.6M340.0 372.5L336.5 376.0M341.3 373.8L337.8 377.3M342.7 375.1L339.2 378.6M335.2 376.5L338.7 380.0M333.8 377.8L337.3 381.3M332.5 379.1L336.0 382.6M332.0 380.5L328.5 384.0M333.3 381.8L329.8 385.3M334.7 383.1L331.2 386.6M327.2 384.4L330.7 387.9M325.9 385.8L329.4 389.3M324.5 387.1L328.0 390.6M324.0 388.4L320.5 391.9M325.4 389.8L321.9 393.3M326.7 391.1L323.2 394.6M351.2 368.5L354.7 372.0M349.8 369.8L353.3 373.3M348.5 371.1L352.0 374.6M348.0 372.5L344.5 376.0M349.3 373.8L345.8 377.3M350.7 375.1L347.2 378.6M343.2 376.5L346.7 380.0M341.8 377.8L345.3 381.3M340.5 379.1L344.0 382.6M340.0 380.5L336.5 384.0M341.3 381.8L337.8 385.3M342.7 383.1L339.2 386.6M335.2 384.4L338.7 387.9M333.8 385.8L337.3 389.3M332.5 387.1L336.0 390.6M332.0 388.4L328.5 391.9M333.3 389.8L329.8 393.3M334.7 391.1L331.2 394.6M359.1 368.5L362.6 372.0M357.8 369.8L361.3 373.3M356.5 371.1L360.0 374.6M356.0 372.5L352.5 376.0M357.3 373.8L353.8 377.3M358.7 375.1L355.2 378.6M351.2 376.5L354.7 380.0M349.8 377.8L353.3 381.3M348.5 379.1L352.0 382.6M348.0 380.5L344.5 384.0M349.3 381.8L345.8 385.3M350.7 383.1L347.2 386.6M343.2 384.4L346.7 387.9M341.8 385.8L345.3 389.3M340.5 387.1L344.0 390.6M340.0 388.4L336.5 391.9M341.3 389.8L337.8 393.3M342.7 391.1L339.2 394.6M367.1 368.5L370.6 372.0M365.8 369.8L369.3 373.3M364.5 371.1L368.0 374.6M364.0 372.5L360.5 376.0M365.3 373.8L361.8 377.3M366.6 375.1L363.1 378.6M359.1 376.5L362.6 380.0M357.8 377.8L361.3 381.3M356.5 379.1L360.0 382.6M356.0 380.5L352.5 384.0M357.3 381.8L353.8 385.3M358.7 383.1L355.2 386.6M351.2 384.4L354.7 387.9M349.8 385.8L353.3 389.3M348.5 387.1L352.0 390.6M348.0 388.4L344.5 391.9M349.3 389.8L345.8 393.3M350.7 391.1L347.2 394.6M375.1 368.5L378.6 372.0M373.8 369.8L377.3 373.3M372.5 371.1L376.0 374.6M372.0 372.5L368.5 376.0M373.3 373.8L369.8 377.3M374.6 375.1L371.1 378.6M367.1 376.5L370.6 380.0M365.8 377.8L369.3 381.3M364.5 379.1L368.0 382.6M364.0 380.5L360.5 384.0M365.3 381.8L361.8 385.3M366.6 383.1L363.1 386.6M359.1 384.4L362.6 387.9M357.8 385.8L361.3 389.3M356.5 387.1L360.0 390.6M356.0 388.4L352.5 391.9M357.3 389.8L353.8 393.3M358.7 391.1L355.2 394.6M383.1 368.5L386.6 372.0M381.8 369.8L385.3 373.3M380.5 371.1L384.0 374.6M380.0 372.5L376.5 376.0M381.3 373.8L377.8 377.3M382.6 375.1L379.1 378.6M375.1 376.5L378.6 380.0M373.8 377.8L377.3 381.3M372.5 379.1L376.0 382.6M372.0 380.5L368.5 384.0M373.3 381.8L369.8 385.3M374.6 383.1L371.1 386.6M367.1 384.4L370.6 387.9M365.8 385.8L369.3 389.3M364.5 387.1L368.0 390.6M364.0 388.4L360.5 391.9M365.3 389.8L361.8 393.3M366.6 391.1L363.1 394.6M391.1 368.5L394.6 372.0M389.8 369.8L393.3 373.3M388.4 371.1L391.9 374.6M387.9 372.5L384.4 376.0M389.3 373.8L385.8 377.3M390.6 375.1L387.1 378.6M383.1 376.5L386.6 380.0M381.8 377.8L385.3 381.3M380.5 379.1L384.0 382.6M380.0 380.5L376.5 384.0M381.3 381.8L377.8 385.3M382.6 383.1L379.1 386.6M375.1 384.4L378.6 387.9M373.8 385.8L377.3 389.3M372.5 387.1L376.0 390.6M372.0 388.4L368.5 391.9M373.3 389.8L369.8 393.3M374.6 391.1L371.1 394.6M399.1 368.5L402.6 372.0M397.8 369.8L401.3 373.3M396.4 371.1L399.9 374.6M395.9 372.5L392.4 376.0M397.3 373.8L393.8 377.3M398.6 375.1L395.1 378.6M391.1 376.5L394.6 380.0M389.8 377.8L393.3 381.3M388.4 379.1L391.9 382.6M387.9 380.5L384.4 384.0M389.3 381.8L385.8 385.3M390.6 383.1L387.1 386.6M383.1 384.4L386.6 387.9M381.8 385.8L385.3 389.3M380.5 387.1L384.0 390.6M380.0 388.4L376.5 391.9M381.3 389.8L377.8 393.3M382.6 391.1L379.1 394.6M407.1 368.5L410.6 372.0M405.8 369.8L409.3 373.3M404.4 371.1L407.9 374.6M403.9 372.5L400.4 376.0M405.3 373.8L401.8 377.3M406.6 375.1L403.1 378.6M399.1 376.5L402.6 380.0M397.8 377.8L401.3 381.3M396.4 379.1L399.9 382.6M395.9 380.5L392.4 384.0M397.3 381.8L393.8 385.3M398.6 383.1L395.1 386.6M391.1 384.4L394.6 387.9M389.8 385.8L393.3 389.3M388.4 387.1L391.9 390.6M387.9 388.4L384.4 391.9M389.3 389.8L385.8 393.3M390.6 391.1L387.1 394.6M415.1 368.5L418.6 372.0M413.7 369.8L417.2 373.3M412.4 371.1L415.9 374.6M411.9 372.5L408.4 376.0M413.3 373.8L409.8 377.3M414.6 375.1L411.1 378.6M407.1 376.5L410.6 380.0M405.8 377.8L409.3 381.3M404.4 379.1L407.9 382.6M403.9 380.5L400.4 384.0M405.3 381.8L401.8 385.3M406.6 383.1L403.1 386.6M399.1 384.4L402.6 387.9M397.8 385.8L401.3 389.3M396.4 387.1L399.9 390.6M395.9 388.4L392.4 391.9M397.3 389.8L393.8 393.3M398.6 391.1L395.1 394.6M423.1 368.5L426.6 372.0M421.7 369.8L425.2 373.3M420.4 371.1L423.9 374.6M419.9 372.5L416.4 376.0M421.2 373.8L417.7 377.3M422.6 375.1L419.1 378.6M415.1 376.5L418.6 380.0M413.7 377.8L417.2 381.3M412.4 379.1L415.9 382.6M411.9 380.5L408.4 384.0M413.3 381.8L409.8 385.3M414.6 383.1L411.1 386.6M407.1 384.4L410.6 387.9M405.8 385.8L409.3 389.3M404.4 387.1L407.9 390.6M403.9 388.4L400.4 391.9M405.3 389.8L401.8 393.3M406.6 391.1L403.1 394.6M431.1 368.5L434.6 372.0M429.7 369.8L433.2 373.3M428.4 371.1L431.9 374.6M427.9 372.5L424.4 376.0M429.2 373.8L425.7 377.3M430.6 375.1L427.1 378.6M423.1 376.5L426.6 380.0M421.7 377.8L425.2 381.3M420.4 379.1L423.9 382.6M419.9 380.5L416.4 384.0M421.2 381.8L417.7 385.3M422.6 383.1L419.1 386.6M415.1 384.4L418.6 387.9M413.7 385.8L417.2 389.3M412.4 387.1L415.9 390.6M411.9 388.4L408.4 391.9M413.3 389.8L409.8 393.3M414.6 391.1L411.1 394.6M439.0 368.5L442.5 372.0M437.7 369.8L441.2 373.3M436.4 371.1L439.9 374.6M435.9 372.5L432.4 376.0M437.2 373.8L433.7 377.3M438.6 375.1L435.1 378.6M431.1 376.5L434.6 380.0M429.7 377.8L433.2 381.3M428.4 379.1L431.9 382.6M427.9 380.5L424.4 384.0M429.2 381.8L425.7 385.3M430.6 383.1L427.1 386.6M423.1 384.4L426.6 387.9M421.7 385.8L425.2 389.3M420.4 387.1L423.9 390.6M419.9 388.4L416.4 391.9M421.2 389.8L417.7 393.3M422.6 391.1L419.1 394.6M447.0 368.5L450.5 372.0M445.7 369.8L449.2 373.3M444.4 371.1L447.9 374.6M443.9 372.5L440.4 376.0M445.2 373.8L441.7 377.3M446.5 375.1L443.0 378.6M439.0 376.5L442.5 380.0M437.7 377.8L441.2 381.3M436.4 379.1L439.9 382.6M435.9 380.5L432.4 384.0M437.2 381.8L433.7 385.3M438.6 383.1L435.1 386.6M431.1 384.4L434.6 387.9M429.7 385.8L433.2 389.3M428.4 387.1L431.9 390.6M427.9 388.4L424.4 391.9M429.2 389.8L425.7 393.3M430.6 391.1L427.1 394.6M455.0 368.5L458.5 372.0M453.7 369.8L457.2 373.3M452.4 371.1L455.9 374.6M451.9 372.5L448.4 376.0M453.2 373.8L449.7 377.3M454.5 375.1L451.0 378.6M447.0 376.5L450.5 380.0M445.7 377.8L449.2 381.3M444.4 379.1L447.9 382.6M443.9 380.5L440.4 384.0M445.2 381.8L441.7 385.3M446.5 383.1L443.0 386.6M439.0 384.4L442.5 387.9M437.7 385.8L441.2 389.3M436.4 387.1L439.9 390.6M435.9 388.4L432.4 391.9M437.2 389.8L433.7 393.3M438.6 391.1L435.1 394.6M463.0 368.5L466.5 372.0M461.7 369.8L465.2 373.3M460.4 371.1L463.9 374.6M459.9 372.5L456.4 376.0M461.2 373.8L457.7 377.3M462.5 375.1L459.0 378.6M455.0 376.5L458.5 380.0M453.7 377.8L457.2 381.3M452.4 379.1L455.9 382.6M451.9 380.5L448.4 384.0M453.2 381.8L449.7 385.3M454.5 383.1L451.0 386.6M447.0 384.4L450.5 387.9M445.7 385.8L449.2 389.3M444.4 387.1L447.9 390.6M443.9 388.4L440.4 391.9M445.2 389.8L441.7 393.3M446.5 391.1L443.0 394.6M467.9 372.5L464.4 376.0M469.2 373.8L465.7 377.3M470.5 375.1L467.0 378.6M463.0 376.5L466.5 380.0M461.7 377.8L465.2 381.3M460.4 379.1L463.9 382.6M459.9 380.5L456.4 384.0M461.2 381.8L457.7 385.3M462.5 383.1L459.0 386.6M455.0 384.4L458.5 387.9M453.7 385.8L457.2 389.3M452.4 387.1L455.9 390.6M451.9 388.4L448.4 391.9M453.2 389.8L449.7 393.3M454.5 391.1L451.0 394.6M467.9 380.5L464.4 384.0M469.2 381.8L465.7 385.3M470.5 383.1L467.0 386.6M463.0 384.4L466.5 387.9M461.7 385.8L465.2 389.3M460.4 387.1L463.9 390.6M459.9 388.4L456.4 391.9M461.2 389.8L457.7 393.3M462.5 391.1L459.0 394.6M467.9 388.4L464.4 391.9M469.2 389.8L465.7 393.3M470.5 391.1L467.0 394.6" stroke="#fff" stroke-width="1.2" fill="none"/>
<path d="M66.4 375.3H464" stroke="#333" stroke-width="0.9"/>
<path d="M66.6 375.3 L66.9 368.5 L68.6 366.7 L70.6 365.1 L72.6 363.6 L73.9 362.8 L75.6 363.8 L77.6 364.8 L79.4 365.9 L81.1 369.5 L83.2 371.7 L86.1 372.2 L88.8 372.1 L89.5 369.5 L91.4 367.2 L93.1 366.4 L95.1 366.9 L98.3 368.1 L100.1 371.0 L102.8 372.4 L106.1 373.1 L106.8 372.8 L107.2 370.3 L108.6 370.0 L109.6 370.8 L110.1 375.3Z" fill="#6cb95b"/>
<path d="M65.5 375.3L65.9 366.8L68.3 375.3ZM66.8 375.3L67.5 365.0L68.9 375.3ZM68.0 375.3L68.9 365.2L70.1 375.3ZM68.9 375.3L70.9 362.9L71.1 375.3ZM69.7 375.3L72.3 361.0L72.4 375.3ZM70.7 375.3L70.9 358.3L73.7 375.3ZM72.1 375.3L72.2 361.2L74.4 375.3ZM73.3 375.3L74.9 361.1L76.0 375.3ZM74.7 375.3L74.5 360.2L76.8 375.3ZM75.6 375.3L76.6 360.3L78.0 375.3ZM76.6 375.3L77.5 362.1L79.5 375.3ZM78.0 375.3L79.6 364.0L80.7 375.3ZM79.2 375.3L80.2 366.3L82.4 375.3ZM80.7 375.3L82.5 368.8L82.8 375.3ZM81.5 375.3L83.4 370.9L84.4 375.3ZM82.8 375.3L83.7 370.3L85.6 375.3ZM83.9 375.3L85.3 371.0L86.9 375.3ZM85.9 375.3L87.4 371.2L87.9 375.3ZM86.7 375.3L89.6 370.9L89.7 375.3ZM88.3 375.3L89.8 368.9L90.3 375.3ZM89.4 375.3L89.4 367.1L91.5 375.3ZM90.6 375.3L91.1 365.6L93.1 375.3ZM91.9 375.3L93.1 365.2L94.6 375.3ZM93.5 375.3L95.7 363.2L95.9 375.3ZM94.3 375.3L96.9 365.2L97.4 375.3ZM95.7 375.3L96.1 366.2L98.0 375.3ZM97.0 375.3L97.4 365.5L99.0 375.3ZM97.6 375.3L99.4 368.0L100.7 375.3ZM99.1 375.3L100.8 369.9L101.9 375.3ZM99.9 375.3L102.2 370.0L102.9 375.3ZM101.7 375.3L102.5 371.7L103.9 375.3ZM103.0 375.3L102.9 372.3L105.2 375.3ZM104.1 375.3L103.8 372.3L106.1 375.3ZM105.1 375.3L105.7 372.8L107.1 375.3ZM106.3 375.3L106.5 368.4L108.6 375.3ZM107.1 375.3L107.5 368.6L110.1 375.3Z" fill="#6cb95b" fill-opacity="0.9"/>
<path d="M67.6 373.8L67.4 367.7M69.3 373.8L67.3 366.8M71.2 373.8L72.8 366.3M72.8 373.8L75.0 363.2M74.5 373.8L74.7 365.9M76.6 373.8L79.0 362.3M78.9 373.8L77.8 366.2M80.7 373.8L82.1 368.6M83.1 373.8L82.2 372.1M90.5 373.8L92.1 367.1M92.9 373.8L91.5 366.4M94.8 373.8L92.5 368.8M96.7 373.8L95.5 366.7M99.3 373.8L99.0 368.4" stroke="#d9f0d2" stroke-opacity="0.55" stroke-width="0.6" fill="none"/>
<path d="M419.8 375.3 L420.1 368.5 L421.8 366.7 L423.8 365.1 L425.8 363.6 L427.1 362.8 L428.8 363.8 L430.8 364.8 L432.6 365.9 L434.3 369.5 L436.4 371.7 L439.3 372.2 L442.0 372.1 L442.7 369.5 L444.6 367.2 L446.3 366.4 L448.3 366.9 L451.5 368.1 L453.3 371.0 L456.0 372.4 L459.3 373.1 L460.0 372.8 L460.4 370.3 L461.8 370.0 L462.8 370.8 L463.3 375.3Z" fill="#6cb95b"/>
<path d="M418.7 375.3L419.1 366.8L421.5 375.3ZM420.0 375.3L420.7 365.0L422.1 375.3ZM421.2 375.3L422.1 365.2L423.3 375.3ZM422.1 375.3L424.1 362.9L424.3 375.3ZM422.9 375.3L425.5 361.0L425.6 375.3ZM423.9 375.3L424.1 358.3L426.9 375.3ZM425.3 375.3L425.4 361.2L427.6 375.3ZM426.5 375.3L428.1 361.1L429.2 375.3ZM427.9 375.3L427.7 360.2L430.0 375.3ZM428.8 375.3L429.8 360.3L431.2 375.3ZM429.8 375.3L430.7 362.1L432.7 375.3ZM431.2 375.3L432.8 364.0L433.9 375.3ZM432.4 375.3L433.4 366.3L435.6 375.3ZM433.9 375.3L435.7 368.8L436.0 375.3ZM434.7 375.3L436.6 370.9L437.6 375.3ZM436.0 375.3L436.9 370.3L438.8 375.3ZM437.1 375.3L438.5 371.0L440.1 375.3ZM439.1 375.3L440.6 371.2L441.1 375.3ZM439.9 375.3L442.8 370.9L442.9 375.3ZM441.5 375.3L443.0 368.9L443.5 375.3ZM442.6 375.3L442.6 367.1L444.7 375.3ZM443.8 375.3L444.3 365.6L446.3 375.3ZM445.1 375.3L446.3 365.2L447.8 375.3ZM446.7 375.3L448.9 363.2L449.1 375.3ZM447.5 375.3L450.1 365.2L450.6 375.3ZM448.9 375.3L449.3 366.2L451.2 375.3ZM450.2 375.3L450.6 365.5L452.2 375.3ZM450.8 375.3L452.6 368.0L453.9 375.3ZM452.3 375.3L454.0 369.9L455.1 375.3ZM453.1 375.3L455.4 370.0L456.1 375.3ZM454.9 375.3L455.7 371.7L457.1 375.3ZM456.2 375.3L456.1 372.3L458.4 375.3ZM457.3 375.3L457.0 372.3L459.3 375.3ZM458.3 375.3L458.9 372.8L460.3 375.3ZM459.5 375.3L459.7 368.4L461.8 375.3ZM460.3 375.3L460.7 368.6L463.3 375.3Z" fill="#6cb95b" fill-opacity="0.9"/>
<path d="M420.8 373.8L420.6 367.7M422.5 373.8L420.5 366.8M424.4 373.8L426.0 366.3M426.0 373.8L428.2 363.2M427.7 373.8L427.9 365.9M429.8 373.8L432.2 362.3M432.1 373.8L431.0 366.2M433.9 373.8L435.3 368.6M436.3 373.8L435.4 372.1M443.7 373.8L445.3 367.1M446.1 373.8L444.7 366.4M448.0 373.8L445.7 368.8M449.9 373.8L448.7 366.7M452.5 373.8L452.2 368.4" stroke="#d9f0d2" stroke-opacity="0.55" stroke-width="0.6" fill="none"/>
<path d="M88.4 296.7V329.5M88.4 342.5V375.3" stroke="#93b4de" stroke-width="0.7" fill="none"/>
<path d="M87 298.6L89.8 295.8M87 376.5L89.8 373.7" stroke="#93b4de" stroke-width="0.6" fill="none"/>
<text transform="translate(90.2 336) rotate(-90)" font-family="'Liberation Sans', sans-serif" font-size="5.2" fill="#93b4de" text-anchor="middle">2,75</text>
<text x="155.4" y="412.5" font-family="'Liberation Serif', serif" font-size="16.6" fill="#151515" stroke="#151515" stroke-width="0.18" textLength="96.1" lengthAdjust="spacingAndGlyphs">PROSPETTO</text>
<text x="262" y="412.5" font-family="'Liberation Serif', serif" font-size="16.6" fill="#151515" stroke="#151515" stroke-width="0.18" textLength="87.6" lengthAdjust="spacingAndGlyphs">FRONTALE</text>
<clipPath id="sc4"><rect x="562.5" y="95.3" width="157.0" height="31.700000000000003"/></clipPath>
<g clip-path="url(#sc4)" shape-rendering="crispEdges">
<path d="M562 95H720V96H562ZM562 98H720V99H562ZM562 101H720V102H562ZM562 105H720V106H562ZM562 108H720V109H562ZM562 111H720V112H562ZM562 115H720V116H562ZM562 118H720V119H562ZM562 121H720V122H562ZM562 125H720V126H562Z" fill="#2a2a2a"/>
<path d="M562 96H720V97H562ZM562 99H720V100H562ZM562 106H720V107H562ZM562 109H720V110H562ZM562 116H720V117H562ZM562 119H720V120H562ZM562 126H720V127H562Z" fill="#808080"/>
<path d="M562 97H720V98H562ZM562 100H720V101H562ZM562 104H720V105H562ZM562 107H720V108H562ZM562 110H720V111H562ZM562 114H720V115H562ZM562 117H720V118H562ZM562 120H720V121H562ZM562 124H720V125H562Z" fill="#d6d6d6"/>
<path d="M562 102H720V103H562ZM562 112H720V113H562ZM562 122H720V123H562Z" fill="#6a6a6a"/>
<path d="M562 103H720V104H562ZM562 113H720V114H562ZM562 123H720V124H562Z" fill="#a0a0a0"/>
</g>
<rect x="562.5" y="127" width="157" height="3.3" fill="#fff"/>
<path d="M562.5 127.1H719.5" stroke="#333" stroke-width="0.8" fill="none"/>
<path d="M562.5 130.4H719.5" stroke="#333" stroke-width="0.8" fill="none"/>
<rect x="558.5" y="95.3" width="4.0" height="106.8" fill="#fff"/>
<path d="M558.5 95.3V202.1" stroke="#444" stroke-width="0.85" fill="none"/>
<path d="M562.5 95.3V202.1" stroke="#444" stroke-width="0.85" fill="none"/>
<rect x="612.4" y="95.3" width="2.3999999999999773" height="106.8" fill="#fff"/>
<path d="M612.4 95.3V202.1" stroke="#444" stroke-width="0.8" fill="none"/>
<path d="M614.8 95.3V202.1" stroke="#444" stroke-width="0.8" fill="none"/>
<rect x="667.2" y="95.3" width="2.599999999999909" height="106.8" fill="#fff"/>
<path d="M667.2 95.3V202.1" stroke="#444" stroke-width="0.8" fill="none"/>
<path d="M669.8 95.3V202.1" stroke="#444" stroke-width="0.8" fill="none"/>
<rect x="719.5" y="95.3" width="4.0" height="106.8" fill="#fff"/>
<path d="M719.5 95.3V202.1" stroke="#444" stroke-width="0.85" fill="none"/>
<path d="M723.5 95.3V202.1" stroke="#444" stroke-width="0.85" fill="none"/>
<rect x="553" y="92" width="175.79999999999995" height="3.3" fill="#fff" stroke="#3a3a3a" stroke-width="0.8"/>
<polyline points="553.0 88.80 554.2 90.00 555.5 88.80 556.8 90.00 558.0 88.80 559.2 90.00 560.5 88.80 561.8 90.00 563.0 88.80 564.2 90.00 565.5 88.80 566.8 90.00 568.0 88.80 569.2 90.00 570.5 88.80 571.8 90.00 573.0 88.80 574.2 90.00 575.5 88.80 576.8 90.00 578.0 88.80 579.2 90.00 580.5 88.80 581.8 90.00 583.0 88.80 584.2 90.00 585.5 88.80 586.8 90.00 588.0 88.80 589.2 90.00 590.5 88.80 591.8 90.00 593.0 88.80 594.2 90.00 595.5 88.80 596.8 90.00 598.0 88.80 599.2 90.00 600.5 88.80 601.8 90.00 603.0 88.80 604.2 90.00 605.5 88.80 606.8 90.00 608.0 88.80 609.2 90.00 610.5 88.80 611.8 90.00 613.0 88.80 614.2 90.00 615.5 88.80 616.8 90.00 618.0 88.80 619.2 90.00 620.5 88.80 621.8 90.00 623.0 88.80 624.2 90.00 625.5 88.80 626.8 90.00 628.0 88.80 629.2 90.00 630.5 88.80 631.8 90.00 633.0 88.80 634.2 90.00 635.5 88.80 636.8 90.00 638.0 88.80 639.2 90.00 640.5 88.80 641.8 90.00 643.0 88.80 644.2 90.00 645.5 88.80 646.8 90.00 648.0 88.80 649.2 90.00 650.5 88.80 651.8 90.00 653.0 88.80 654.2 90.00 655.5 88.80 656.8 90.00 658.0 88.80 659.2 90.00 660.5 88.80 661.8 90.00 663.0 88.80 664.2 90.00 665.5 88.80 666.8 90.00 668.0 88.80 669.2 90.00 670.5 88.80 671.8 90.00 673.0 88.80 674.2 90.00 675.5 88.80 676.8 90.00 678.0 88.80 679.2 90.00 680.5 88.80 681.8 90.00 683.0 88.80 684.2 90.00 685.5 88.80 686.8 90.00 688.0 88.80 689.2 90.00 690.5 88.80 691.8 90.00 693.0 88.80 694.2 90.00 695.5 88.80 696.8 90.00 698.0 88.80 699.2 90.00 700.5 88.80 701.8 90.00 703.0 88.80 704.2 90.00 705.5 88.80 706.8 90.00 708.0 88.80 709.2 90.00 710.5 88.80 711.8 90.00 713.0 88.80 714.2 90.00 715.5 88.80 716.8 90.00 718.0 88.80 719.2 90.00 720.5 88.80 721.8 90.00 723.0 88.80 724.2 90.00 725.5 88.80 726.8 90.00 728.0 88.80 728.8 89.40" fill="none" stroke="#262626" stroke-width="1.7" stroke-linejoin="round"/>
<clipPath id="gc5"><rect x="536.6" y="202.1" width="211.19999999999993" height="13.5"/></clipPath>
<rect x="536.6" y="202.1" width="211.19999999999993" height="13.5" fill="#505050"/>
<path clip-path="url(#gc5)" d="M531.8 196.7L528.3 200.2M533.1 198.0L529.6 201.5M534.4 199.3L530.9 202.8M539.8 196.7L536.3 200.2M541.1 198.0L537.6 201.5M542.4 199.3L538.9 202.8M534.9 200.7L538.4 204.2M533.6 202.0L537.1 205.5M532.3 203.3L535.8 206.8M531.8 204.7L528.3 208.2M533.1 206.0L529.6 209.5M534.4 207.3L530.9 210.8M547.8 196.7L544.3 200.2M549.1 198.0L545.6 201.5M550.4 199.3L546.9 202.8M542.9 200.7L546.4 204.2M541.6 202.0L545.1 205.5M540.3 203.3L543.8 206.8M539.8 204.7L536.3 208.2M541.1 206.0L537.6 209.5M542.4 207.3L538.9 210.8M534.9 208.7L538.4 212.2M533.6 210.0L537.1 213.5M532.3 211.3L535.8 214.8M531.8 212.7L528.3 216.2M533.1 214.0L529.6 217.5M534.4 215.3L530.9 218.8M555.7 196.7L552.2 200.2M557.1 198.0L553.6 201.5M558.4 199.3L554.9 202.8M550.9 200.7L554.4 204.2M549.6 202.0L553.1 205.5M548.2 203.3L551.7 206.8M547.8 204.7L544.3 208.2M549.1 206.0L545.6 209.5M550.4 207.3L546.9 210.8M542.9 208.7L546.4 212.2M541.6 210.0L545.1 213.5M540.3 211.3L543.8 214.8M539.8 212.7L536.3 216.2M541.1 214.0L537.6 217.5M542.4 215.3L538.9 218.8M534.9 216.7L538.4 220.2M533.6 218.0L537.1 221.5M532.3 219.3L535.8 222.8M563.7 196.7L560.2 200.2M565.1 198.0L561.6 201.5M566.4 199.3L562.9 202.8M558.9 200.7L562.4 204.2M557.6 202.0L561.1 205.5M556.2 203.3L559.7 206.8M555.7 204.7L552.2 208.2M557.1 206.0L553.6 209.5M558.4 207.3L554.9 210.8M550.9 208.7L554.4 212.2M549.6 210.0L553.1 213.5M548.2 211.3L551.7 214.8M547.8 212.7L544.3 216.2M549.1 214.0L545.6 217.5M550.4 215.3L546.9 218.8M542.9 216.7L546.4 220.2M541.6 218.0L545.1 221.5M540.3 219.3L543.8 222.8M571.7 196.7L568.2 200.2M573.1 198.0L569.6 201.5M574.4 199.3L570.9 202.8M566.9 200.7L570.4 204.2M565.6 202.0L569.1 205.5M564.2 203.3L567.7 206.8M563.7 204.7L560.2 208.2M565.1 206.0L561.6 209.5M566.4 207.3L562.9 210.8M558.9 208.7L562.4 212.2M557.6 210.0L561.1 213.5M556.2 211.3L559.7 214.8M555.7 212.7L552.2 216.2M557.1 214.0L553.6 217.5M558.4 215.3L554.9 218.8M550.9 216.7L554.4 220.2M549.6 218.0L553.1 221.5M548.2 219.3L551.7 222.8M579.7 196.7L576.2 200.2M581.0 198.0L577.5 201.5M582.4 199.3L578.9 202.8M574.9 200.7L578.4 204.2M573.6 202.0L577.1 205.5M572.2 203.3L575.7 206.8M571.7 204.7L568.2 208.2M573.1 206.0L569.6 209.5M574.4 207.3L570.9 210.8M566.9 208.7L570.4 212.2M565.6 210.0L569.1 213.5M564.2 211.3L567.7 214.8M563.7 212.7L560.2 216.2M565.1 214.0L561.6 217.5M566.4 215.3L562.9 218.8M558.9 216.7L562.4 220.2M557.6 218.0L561.1 221.5M556.2 219.3L559.7 222.8M587.7 196.7L584.2 200.2M589.0 198.0L585.5 201.5M590.4 199.3L586.9 202.8M582.9 200.7L586.4 204.2M581.5 202.0L585.0 205.5M580.2 203.3L583.7 206.8M579.7 204.7L576.2 208.2M581.0 206.0L577.5 209.5M582.4 207.3L578.9 210.8M574.9 208.7L578.4 212.2M573.6 210.0L577.1 213.5M572.2 211.3L575.7 214.8M571.7 212.7L568.2 216.2M573.1 214.0L569.6 217.5M574.4 215.3L570.9 218.8M566.9 216.7L570.4 220.2M565.6 218.0L569.1 221.5M564.2 219.3L567.7 222.8M595.7 196.7L592.2 200.2M597.0 198.0L593.5 201.5M598.4 199.3L594.9 202.8M590.9 200.7L594.4 204.2M589.5 202.0L593.0 205.5M588.2 203.3L591.7 206.8M587.7 204.7L584.2 208.2M589.0 206.0L585.5 209.5M590.4 207.3L586.9 210.8M582.9 208.7L586.4 212.2M581.5 210.0L585.0 213.5M580.2 211.3L583.7 214.8M579.7 212.7L576.2 216.2M581.0 214.0L577.5 217.5M582.4 215.3L578.9 218.8M574.9 216.7L578.4 220.2M573.6 218.0L577.1 221.5M572.2 219.3L575.7 222.8M603.7 196.7L600.2 200.2M605.0 198.0L601.5 201.5M606.3 199.3L602.8 202.8M598.9 200.7L602.4 204.2M597.5 202.0L601.0 205.5M596.2 203.3L599.7 206.8M595.7 204.7L592.2 208.2M597.0 206.0L593.5 209.5M598.4 207.3L594.9 210.8M590.9 208.7L594.4 212.2M589.5 210.0L593.0 213.5M588.2 211.3L591.7 214.8M587.7 212.7L584.2 216.2M589.0 214.0L585.5 217.5M590.4 215.3L586.9 218.8M582.9 216.7L586.4 220.2M581.5 218.0L585.0 221.5M580.2 219.3L583.7 222.8M611.7 196.7L608.2 200.2M613.0 198.0L609.5 201.5M614.3 199.3L610.8 202.8M606.8 200.7L610.3 204.2M605.5 202.0L609.0 205.5M604.2 203.3L607.7 206.8M603.7 204.7L600.2 208.2M605.0 206.0L601.5 209.5M606.3 207.3L602.8 210.8M598.9 208.7L602.4 212.2M597.5 210.0L601.0 213.5M596.2 211.3L599.7 214.8M595.7 212.7L592.2 216.2M597.0 214.0L593.5 217.5M598.4 215.3L594.9 218.8M590.9 216.7L594.4 220.2M589.5 218.0L593.0 221.5M588.2 219.3L591.7 222.8M619.7 196.7L616.2 200.2M621.0 198.0L617.5 201.5M622.3 199.3L618.8 202.8M614.8 200.7L618.3 204.2M613.5 202.0L617.0 205.5M612.2 203.3L615.7 206.8M611.7 204.7L608.2 208.2M613.0 206.0L609.5 209.5M614.3 207.3L610.8 210.8M606.8 208.7L610.3 212.2M605.5 210.0L609.0 213.5M604.2 211.3L607.7 214.8M603.7 212.7L600.2 216.2M605.0 214.0L601.5 217.5M606.3 215.3L602.8 218.8M598.9 216.7L602.4 220.2M597.5 218.0L601.0 221.5M596.2 219.3L599.7 222.8M627.7 196.7L624.2 200.2M629.0 198.0L625.5 201.5M630.3 199.3L626.8 202.8M622.8 200.7L626.3 204.2M621.5 202.0L625.0 205.5M620.2 203.3L623.7 206.8M619.7 204.7L616.2 208.2M621.0 206.0L617.5 209.5M622.3 207.3L618.8 210.8M614.8 208.7L618.3 212.2M613.5 210.0L617.0 213.5M612.2 211.3L615.7 214.8M611.7 212.7L608.2 216.2M613.0 214.0L609.5 217.5M614.3 215.3L610.8 218.8M606.8 216.7L610.3 220.2M605.5 218.0L609.0 221.5M604.2 219.3L607.7 222.8M635.6 196.7L632.1 200.2M637.0 198.0L633.5 201.5M638.3 199.3L634.8 202.8M630.8 200.7L634.3 204.2M629.5 202.0L633.0 205.5M628.2 203.3L631.7 206.8M627.7 204.7L624.2 208.2M629.0 206.0L625.5 209.5M630.3 207.3L626.8 210.8M622.8 208.7L626.3 212.2M621.5 210.0L625.0 213.5M620.2 211.3L623.7 214.8M619.7 212.7L616.2 216.2M621.0 214.0L617.5 217.5M622.3 215.3L618.8 218.8M614.8 216.7L618.3 220.2M613.5 218.0L617.0 221.5M612.2 219.3L615.7 222.8M643.6 196.7L640.1 200.2M645.0 198.0L641.5 201.5M646.3 199.3L642.8 202.8M638.8 200.7L642.3 204.2M637.5 202.0L641.0 205.5M636.1 203.3L639.6 206.8M635.6 204.7L632.1 208.2M637.0 206.0L633.5 209.5M638.3 207.3L634.8 210.8M630.8 208.7L634.3 212.2M629.5 210.0L633.0 213.5M628.2 211.3L631.7 214.8M627.7 212.7L624.2 216.2M629.0 214.0L625.5 217.5M630.3 215.3L626.8 218.8M622.8 216.7L626.3 220.2M621.5 218.0L625.0 221.5M620.2 219.3L623.7 222.8M651.6 196.7L648.1 200.2M653.0 198.0L649.5 201.5M654.3 199.3L650.8 202.8M646.8 200.7L650.3 204.2M645.5 202.0L649.0 205.5M644.1 203.3L647.6 206.8M643.6 204.7L640.1 208.2M645.0 206.0L641.5 209.5M646.3 207.3L642.8 210.8M638.8 208.7L642.3 212.2M637.5 210.0L641.0 213.5M636.1 211.3L639.6 214.8M635.6 212.7L632.1 216.2M637.0 214.0L633.5 217.5M638.3 215.3L634.8 218.8M630.8 216.7L634.3 220.2M629.5 218.0L633.0 221.5M628.2 219.3L631.7 222.8M659.6 196.7L656.1 200.2M661.0 198.0L657.5 201.5M662.3 199.3L658.8 202.8M654.8 200.7L658.3 204.2M653.5 202.0L657.0 205.5M652.1 203.3L655.6 206.8M651.6 204.7L648.1 208.2M653.0 206.0L649.5 209.5M654.3 207.3L650.8 210.8M646.8 208.7L650.3 212.2M645.5 210.0L649.0 213.5M644.1 211.3L647.6 214.8M643.6 212.7L640.1 216.2M645.0 214.0L641.5 217.5M646.3 215.3L642.8 218.8M638.8 216.7L642.3 220.2M637.5 218.0L641.0 221.5M636.1 219.3L639.6 222.8M667.6 196.7L664.1 200.2M668.9 198.0L665.4 201.5M670.3 199.3L666.8 202.8M662.8 200.7L666.3 204.2M661.4 202.0L664.9 205.5M660.1 203.3L663.6 206.8M659.6 204.7L656.1 208.2M661.0 206.0L657.5 209.5M662.3 207.3L658.8 210.8M654.8 208.7L658.3 212.2M653.5 210.0L657.0 213.5M652.1 211.3L655.6 214.8M651.6 212.7L648.1 216.2M653.0 214.0L649.5 217.5M654.3 215.3L650.8 218.8M646.8 216.7L650.3 220.2M645.5 218.0L649.0 221.5M644.1 219.3L647.6 222.8M675.6 196.7L672.1 200.2M676.9 198.0L673.4 201.5M678.3 199.3L674.8 202.8M670.8 200.7L674.3 204.2M669.4 202.0L672.9 205.5M668.1 203.3L671.6 206.8M667.6 204.7L664.1 208.2M668.9 206.0L665.4 209.5M670.3 207.3L666.8 210.8M662.8 208.7L666.3 212.2M661.4 210.0L664.9 213.5M660.1 211.3L663.6 214.8M659.6 212.7L656.1 216.2M661.0 214.0L657.5 217.5M662.3 215.3L658.8 218.8M654.8 216.7L658.3 220.2M653.5 218.0L657.0 221.5M652.1 219.3L655.6 222.8M683.6 196.7L680.1 200.2M684.9 198.0L681.4 201.5M686.3 199.3L682.8 202.8M678.8 200.7L682.3 204.2M677.4 202.0L680.9 205.5M676.1 203.3L679.6 206.8M675.6 204.7L672.1 208.2M676.9 206.0L673.4 209.5M678.3 207.3L674.8 210.8M670.8 208.7L674.3 212.2M669.4 210.0L672.9 213.5M668.1 211.3L671.6 214.8M667.6 212.7L664.1 216.2M668.9 214.0L665.4 217.5M670.3 215.3L666.8 218.8M662.8 216.7L666.3 220.2M661.4 218.0L664.9 221.5M660.1 219.3L663.6 222.8M691.6 196.7L688.1 200.2M692.9 198.0L689.4 201.5M694.2 199.3L690.7 202.8M686.7 200.7L690.2 204.2M685.4 202.0L688.9 205.5M684.1 203.3L687.6 206.8M683.6 204.7L680.1 208.2M684.9 206.0L681.4 209.5M686.3 207.3L682.8 210.8M678.8 208.7L682.3 212.2M677.4 210.0L680.9 213.5M676.1 211.3L679.6 214.8M675.6 212.7L672.1 216.2M676.9 214.0L673.4 217.5M678.3 215.3L674.8 218.8M670.8 216.7L674.3 220.2M669.4 218.0L672.9 221.5M668.1 219.3L671.6 222.8M699.6 196.7L696.1 200.2M700.9 198.0L697.4 201.5M702.2 199.3L698.7 202.8M694.7 200.7L698.2 204.2M693.4 202.0L696.9 205.5M692.1 203.3L695.6 206.8M691.6 204.7L688.1 208.2M692.9 206.0L689.4 209.5M694.2 207.3L690.7 210.8M686.7 208.7L690.2 212.2M685.4 210.0L688.9 213.5M684.1 211.3L687.6 214.8M683.6 212.7L680.1 216.2M684.9 214.0L681.4 217.5M686.3 215.3L682.8 218.8M678.8 216.7L682.3 220.2M677.4 218.0L680.9 221.5M676.1 219.3L679.6 222.8M707.6 196.7L704.1 200.2M708.9 198.0L705.4 201.5M710.2 199.3L706.7 202.8M702.7 200.7L706.2 204.2M701.4 202.0L704.9 205.5M700.1 203.3L703.6 206.8M699.6 204.7L696.1 208.2M700.9 206.0L697.4 209.5M702.2 207.3L698.7 210.8M694.7 208.7L698.2 212.2M693.4 210.0L696.9 213.5M692.1 211.3L695.6 214.8M691.6 212.7L688.1 216.2M692.9 214.0L689.4 217.5M694.2 215.3L690.7 218.8M686.7 216.7L690.2 220.2M685.4 218.0L688.9 221.5M684.1 219.3L687.6 222.8M715.6 196.7L712.1 200.2M716.9 198.0L713.4 201.5M718.2 199.3L714.7 202.8M710.7 200.7L714.2 204.2M709.4 202.0L712.9 205.5M708.1 203.3L711.6 206.8M707.6 204.7L704.1 208.2M708.9 206.0L705.4 209.5M710.2 207.3L706.7 210.8M702.7 208.7L706.2 212.2M701.4 210.0L704.9 213.5M700.1 211.3L703.6 214.8M699.6 212.7L696.1 216.2M700.9 214.0L697.4 217.5M702.2 215.3L698.7 218.8M694.7 216.7L698.2 220.2M693.4 218.0L696.9 221.5M692.1 219.3L695.6 222.8M723.5 196.7L720.0 200.2M724.9 198.0L721.4 201.5M726.2 199.3L722.7 202.8M718.7 200.7L722.2 204.2M717.4 202.0L720.9 205.5M716.0 203.3L719.5 206.8M715.6 204.7L712.1 208.2M716.9 206.0L713.4 209.5M718.2 207.3L714.7 210.8M710.7 208.7L714.2 212.2M709.4 210.0L712.9 213.5M708.1 211.3L711.6 214.8M707.6 212.7L704.1 216.2M708.9 214.0L705.4 217.5M710.2 215.3L706.7 218.8M702.7 216.7L706.2 220.2M701.4 218.0L704.9 221.5M700.1 219.3L703.6 222.8M731.5 196.7L728.0 200.2M732.9 198.0L729.4 201.5M734.2 199.3L730.7 202.8M726.7 200.7L730.2 204.2M725.4 202.0L728.9 205.5M724.0 203.3L727.5 206.8M723.5 204.7L720.0 208.2M724.9 206.0L721.4 209.5M726.2 207.3L722.7 210.8M718.7 208.7L722.2 212.2M717.4 210.0L720.9 213.5M716.0 211.3L719.5 214.8M715.6 212.7L712.1 216.2M716.9 214.0L713.4 217.5M718.2 215.3L714.7 218.8M710.7 216.7L714.2 220.2M709.4 218.0L712.9 221.5M708.1 219.3L711.6 222.8M739.5 196.7L736.0 200.2M740.9 198.0L737.4 201.5M742.2 199.3L738.7 202.8M734.7 200.7L738.2 204.2M733.4 202.0L736.9 205.5M732.0 203.3L735.5 206.8M731.5 204.7L728.0 208.2M732.9 206.0L729.4 209.5M734.2 207.3L730.7 210.8M726.7 208.7L730.2 212.2M725.4 210.0L728.9 213.5M724.0 211.3L727.5 214.8M723.5 212.7L720.0 216.2M724.9 214.0L721.4 217.5M726.2 215.3L722.7 218.8M718.7 216.7L722.2 220.2M717.4 218.0L720.9 221.5M716.0 219.3L719.5 222.8M747.5 196.7L744.0 200.2M748.8 198.0L745.3 201.5M750.2 199.3L746.7 202.8M742.7 200.7L746.2 204.2M741.3 202.0L744.8 205.5M740.0 203.3L743.5 206.8M739.5 204.7L736.0 208.2M740.9 206.0L737.4 209.5M742.2 207.3L738.7 210.8M734.7 208.7L738.2 212.2M733.4 210.0L736.9 213.5M732.0 211.3L735.5 214.8M731.5 212.7L728.0 216.2M732.9 214.0L729.4 217.5M734.2 215.3L730.7 218.8M726.7 216.7L730.2 220.2M725.4 218.0L728.9 221.5M724.0 219.3L727.5 222.8M750.7 200.7L754.2 204.2M749.3 202.0L752.8 205.5M748.0 203.3L751.5 206.8M747.5 204.7L744.0 208.2M748.8 206.0L745.3 209.5M750.2 207.3L746.7 210.8M742.7 208.7L746.2 212.2M741.3 210.0L744.8 213.5M740.0 211.3L743.5 214.8M739.5 212.7L736.0 216.2M740.9 214.0L737.4 217.5M742.2 215.3L738.7 218.8M734.7 216.7L738.2 220.2M733.4 218.0L736.9 221.5M732.0 219.3L735.5 222.8M750.7 208.7L754.2 212.2M749.3 210.0L752.8 213.5M748.0 211.3L751.5 214.8M747.5 212.7L744.0 216.2M748.8 214.0L745.3 217.5M750.2 215.3L746.7 218.8M742.7 216.7L746.2 220.2M741.3 218.0L744.8 221.5M740.0 219.3L743.5 222.8M750.7 216.7L754.2 220.2M749.3 218.0L752.8 221.5M748.0 219.3L751.5 222.8" stroke="#fff" stroke-width="1.2" fill="none"/>
<path d="M536.6 202.1H747.8" stroke="#333" stroke-width="0.9"/>
<path d="M536.8 202.1 L537.1 195.3 L538.8 193.5 L540.8 191.9 L542.8 190.4 L544.1 189.6 L545.8 190.6 L547.8 191.6 L549.6 192.7 L551.3 196.3 L553.4 198.5 L556.3 199.0 L559.0 198.9 L559.7 196.3 L561.6 194.0 L563.3 193.2 L565.3 193.7 L568.5 194.9 L570.3 197.8 L573.0 199.2 L576.3 199.9 L577.0 199.6 L577.4 197.1 L578.8 196.8 L579.8 197.6 L580.3 202.1Z" fill="#6cb95b"/>
<path d="M535.7 202.1L536.1 193.6L538.5 202.1ZM537.0 202.1L537.7 191.8L539.1 202.1ZM538.2 202.1L539.1 192.0L540.3 202.1ZM539.1 202.1L541.1 189.7L541.3 202.1ZM539.9 202.1L542.5 187.8L542.6 202.1ZM540.9 202.1L541.1 185.1L543.9 202.1ZM542.3 202.1L542.4 188.0L544.6 202.1ZM543.5 202.1L545.1 187.9L546.2 202.1ZM544.9 202.1L544.7 187.0L547.0 202.1ZM545.8 202.1L546.8 187.1L548.2 202.1ZM546.8 202.1L547.7 188.9L549.7 202.1ZM548.2 202.1L549.8 190.8L550.9 202.1ZM549.4 202.1L550.4 193.1L552.6 202.1ZM550.9 202.1L552.7 195.6L553.0 202.1ZM551.7 202.1L553.6 197.7L554.6 202.1ZM553.0 202.1L553.9 197.1L555.8 202.1ZM554.1 202.1L555.5 197.8L557.1 202.1ZM556.1 202.1L557.6 198.0L558.1 202.1ZM556.9 202.1L559.8 197.7L559.9 202.1ZM558.5 202.1L560.0 195.7L560.5 202.1ZM559.6 202.1L559.6 193.9L561.7 202.1ZM560.8 202.1L561.3 192.4L563.3 202.1ZM562.1 202.1L563.3 192.0L564.8 202.1ZM563.7 202.1L565.9 190.0L566.1 202.1ZM564.5 202.1L567.1 192.0L567.6 202.1ZM565.9 202.1L566.3 193.0L568.2 202.1ZM567.2 202.1L567.6 192.3L569.2 202.1ZM567.8 202.1L569.6 194.8L570.9 202.1ZM569.3 202.1L571.0 196.7L572.1 202.1ZM570.1 202.1L572.4 196.8L573.1 202.1ZM571.9 202.1L572.7 198.5L574.1 202.1ZM573.2 202.1L573.1 199.1L575.4 202.1ZM574.3 202.1L574.0 199.1L576.3 202.1ZM575.3 202.1L575.9 199.6L577.3 202.1ZM576.5 202.1L576.7 195.2L578.8 202.1ZM577.3 202.1L577.7 195.4L580.3 202.1Z" fill="#6cb95b" fill-opacity="0.9"/>
<path d="M537.8 200.6L537.6 194.5M539.5 200.6L537.5 193.6M541.4 200.6L543.0 193.1M543.0 200.6L545.2 190.0M544.7 200.6L544.9 192.7M546.8 200.6L549.2 189.1M549.1 200.6L548.0 193.0M550.9 200.6L552.3 195.4M553.3 200.6L552.4 198.9M560.7 200.6L562.3 193.9M563.1 200.6L561.7 193.2M565.0 200.6L562.7 195.6M566.9 200.6L565.7 193.5M569.5 200.6L569.2 195.2" stroke="#d9f0d2" stroke-opacity="0.55" stroke-width="0.6" fill="none"/>
<path d="M703.8 202.1 L704.1 195.3 L705.8 193.5 L707.8 191.9 L709.8 190.4 L711.1 189.6 L712.8 190.6 L714.8 191.6 L716.6 192.7 L718.3 196.3 L720.4 198.5 L723.3 199.0 L726.0 198.9 L726.7 196.3 L728.6 194.0 L730.3 193.2 L732.3 193.7 L735.5 194.9 L737.3 197.8 L740.0 199.2 L743.3 199.9 L744.0 199.6 L744.4 197.1 L745.8 196.8 L746.8 197.6 L747.3 202.1Z" fill="#6cb95b"/>
<path d="M702.7 202.1L703.1 193.6L705.5 202.1ZM704.0 202.1L704.7 191.8L706.1 202.1ZM705.2 202.1L706.1 192.0L707.3 202.1ZM706.1 202.1L708.1 189.7L708.3 202.1ZM706.9 202.1L709.5 187.8L709.6 202.1ZM707.9 202.1L708.1 185.1L710.9 202.1ZM709.3 202.1L709.4 188.0L711.6 202.1ZM710.5 202.1L712.1 187.9L713.2 202.1ZM711.9 202.1L711.7 187.0L714.0 202.1ZM712.8 202.1L713.8 187.1L715.2 202.1ZM713.8 202.1L714.7 188.9L716.7 202.1ZM715.2 202.1L716.8 190.8L717.9 202.1ZM716.4 202.1L717.4 193.1L719.6 202.1ZM717.9 202.1L719.7 195.6L720.0 202.1ZM718.7 202.1L720.6 197.7L721.6 202.1ZM720.0 202.1L720.9 197.1L722.8 202.1ZM721.1 202.1L722.5 197.8L724.1 202.1ZM723.1 202.1L724.6 198.0L725.1 202.1ZM723.9 202.1L726.8 197.7L726.9 202.1ZM725.5 202.1L727.0 195.7L727.5 202.1ZM726.6 202.1L726.6 193.9L728.7 202.1ZM727.8 202.1L728.3 192.4L730.3 202.1ZM729.1 202.1L730.3 192.0L731.8 202.1ZM730.7 202.1L732.9 190.0L733.1 202.1ZM731.5 202.1L734.1 192.0L734.6 202.1ZM732.9 202.1L733.3 193.0L735.2 202.1ZM734.2 202.1L734.6 192.3L736.2 202.1ZM734.8 202.1L736.6 194.8L737.9 202.1ZM736.3 202.1L738.0 196.7L739.1 202.1ZM737.1 202.1L739.4 196.8L740.1 202.1ZM738.9 202.1L739.7 198.5L741.1 202.1ZM740.2 202.1L740.1 199.1L742.4 202.1ZM741.3 202.1L741.0 199.1L743.3 202.1ZM742.3 202.1L742.9 199.6L744.3 202.1ZM743.5 202.1L743.7 195.2L745.8 202.1ZM744.3 202.1L744.7 195.4L747.3 202.1Z" fill="#6cb95b" fill-opacity="0.9"/>
<path d="M704.8 200.6L704.6 194.5M706.5 200.6L704.5 193.6M708.4 200.6L710.0 193.1M710.0 200.6L712.2 190.0M711.7 200.6L711.9 192.7M713.8 200.6L716.2 189.1M716.1 200.6L715.0 193.0M717.9 200.6L719.3 195.4M720.3 200.6L719.4 198.9M727.7 200.6L729.3 193.9M730.1 200.6L728.7 193.2M732.0 200.6L729.7 195.6M733.9 200.6L732.7 193.5M736.5 200.6L736.2 195.2" stroke="#d9f0d2" stroke-opacity="0.55" stroke-width="0.6" fill="none"/>
<text x="517" y="238.1" font-family="'Liberation Serif', serif" font-size="16.6" fill="#151515" stroke="#151515" stroke-width="0.18" textLength="96.0" lengthAdjust="spacingAndGlyphs">PROSPETTO</text>
<text x="623.9" y="238.1" font-family="'Liberation Serif', serif" font-size="16.6" fill="#151515" stroke="#151515" stroke-width="0.18" textLength="86.7" lengthAdjust="spacingAndGlyphs">LATERALE</text>
<text x="715.3" y="238.1" font-family="'Liberation Serif', serif" font-size="16.6" fill="#151515" stroke="#151515" stroke-width="0.18" textLength="64.2" lengthAdjust="spacingAndGlyphs">DESTRO</text>
<clipPath id="sc6"><rect x="558.5" y="322.2" width="164.5" height="30.80000000000001"/></clipPath>
<g clip-path="url(#sc6)" shape-rendering="crispEdges">
<path d="M558 322H723V323H558ZM558 325H723V326H558ZM558 329H723V330H558ZM558 332H723V333H558ZM558 336H723V337H558ZM558 339H723V340H558ZM558 343H723V344H558ZM558 346H723V347H558ZM558 350H723V351H558Z" fill="#3c3c3c"/>
<path d="M558 323H723V324H558ZM558 326H723V327H558ZM558 327H723V328H558ZM558 330H723V331H558ZM558 333H723V334H558ZM558 334H723V335H558ZM558 337H723V338H558ZM558 340H723V341H558ZM558 341H723V342H558ZM558 344H723V345H558ZM558 347H723V348H558ZM558 348H723V349H558ZM558 351H723V352H558Z" fill="#8a8a8a"/>
<path d="M558 324H723V325H558ZM558 328H723V329H558ZM558 331H723V332H558ZM558 335H723V336H558ZM558 338H723V339H558ZM558 342H723V343H558ZM558 345H723V346H558ZM558 349H723V350H558ZM558 352H723V353H558Z" fill="#c4c4c4"/>
</g>
<clipPath id="sc7"><rect x="558.5" y="354" width="164.5" height="74.60000000000002"/></clipPath>
<g clip-path="url(#sc7)" shape-rendering="crispEdges">
<path d="M558 354H723V355H558ZM558 360H723V361H558ZM558 366H723V367H558ZM558 371H723V372H558ZM558 377H723V378H558ZM558 383H723V384H558ZM558 388H723V389H558ZM558 394H723V395H558ZM558 400H723V401H558ZM558 405H723V406H558ZM558 411H723V412H558ZM558 417H723V418H558ZM558 422H723V423H558ZM558 428H723V429H558Z" fill="#f4f4f4"/>
<path d="M558 355H723V356H558ZM558 361H723V362H558ZM558 367H723V368H558ZM558 372H723V373H558ZM558 378H723V379H558ZM558 384H723V385H558ZM558 389H723V390H558ZM558 395H723V396H558ZM558 401H723V402H558ZM558 406H723V407H558ZM558 412H723V413H558ZM558 418H723V419H558ZM558 423H723V424H558Z" fill="#fff"/>
<path d="M558 356H723V357H558ZM558 373H723V374H558ZM558 390H723V391H558ZM558 407H723V408H558ZM558 424H723V425H558Z" fill="#e8e8e8"/>
<path d="M558 357H723V358H558ZM558 368H723V369H558ZM558 374H723V375H558ZM558 385H723V386H558ZM558 391H723V392H558ZM558 402H723V403H558ZM558 408H723V409H558ZM558 419H723V420H558ZM558 425H723V426H558Z" fill="#6c6c6c"/>
<path d="M558 358H723V359H558ZM558 369H723V370H558ZM558 375H723V376H558ZM558 386H723V387H558ZM558 392H723V393H558ZM558 403H723V404H558ZM558 409H723V410H558ZM558 420H723V421H558ZM558 426H723V427H558Z" fill="#c8c8c8"/>
<path d="M558 359H723V360H558ZM558 370H723V371H558ZM558 376H723V377H558ZM558 387H723V388H558ZM558 393H723V394H558ZM558 404H723V405H558ZM558 410H723V411H558ZM558 421H723V422H558ZM558 427H723V428H558Z" fill="#666"/>
<path d="M558 362H723V363H558ZM558 379H723V380H558ZM558 396H723V397H558ZM558 413H723V414H558Z" fill="#dcdcdc"/>
<path d="M558 363H723V364H558ZM558 380H723V381H558ZM558 397H723V398H558ZM558 414H723V415H558Z" fill="#a2a2a2"/>
<path d="M558 364H723V365H558ZM558 381H723V382H558ZM558 398H723V399H558ZM558 415H723V416H558Z" fill="#9c9c9c"/>
<path d="M558 365H723V366H558ZM558 382H723V383H558ZM558 399H723V400H558ZM558 416H723V417H558Z" fill="#b8b8b8"/>
</g>
<path d="M558.5 353.6H723" stroke="#2a2a2a" stroke-width="1.4" fill="none"/>
<path d="M558.5 322.2V428.6" stroke="#333" stroke-width="1.0" fill="none"/>
<path d="M723 322.2V428.6" stroke="#333" stroke-width="1.0" fill="none"/>
<rect x="552.8" y="318.4" width="176.10000000000002" height="3.7" fill="#fff" stroke="#3a3a3a" stroke-width="0.8"/>
<polyline points="552.8 315.10 554.0 316.30 555.3 315.10 556.5 316.30 557.8 315.10 559.0 316.30 560.3 315.10 561.5 316.30 562.8 315.10 564.0 316.30 565.3 315.10 566.5 316.30 567.8 315.10 569.0 316.30 570.3 315.10 571.5 316.30 572.8 315.10 574.0 316.30 575.3 315.10 576.5 316.30 577.8 315.10 579.0 316.30 580.3 315.10 581.5 316.30 582.8 315.10 584.0 316.30 585.3 315.10 586.5 316.30 587.8 315.10 589.0 316.30 590.3 315.10 591.5 316.30 592.8 315.10 594.0 316.30 595.3 315.10 596.5 316.30 597.8 315.10 599.0 316.30 600.3 315.10 601.5 316.30 602.8 315.10 604.0 316.30 605.3 315.10 606.5 316.30 607.8 315.10 609.0 316.30 610.3 315.10 611.5 316.30 612.8 315.10 614.0 316.30 615.3 315.10 616.5 316.30 617.8 315.10 619.0 316.30 620.3 315.10 621.5 316.30 622.8 315.10 624.0 316.30 625.3 315.10 626.5 316.30 627.8 315.10 629.0 316.30 630.3 315.10 631.5 316.30 632.8 315.10 634.0 316.30 635.3 315.10 636.5 316.30 637.8 315.10 639.0 316.30 640.3 315.10 641.5 316.30 642.8 315.10 644.0 316.30 645.3 315.10 646.5 316.30 647.8 315.10 649.0 316.30 650.3 315.10 651.5 316.30 652.8 315.10 654.0 316.30 655.3 315.10 656.5 316.30 657.8 315.10 659.0 316.30 660.3 315.10 661.5 316.30 662.8 315.10 664.0 316.30 665.3 315.10 666.5 316.30 667.8 315.10 669.0 316.30 670.3 315.10 671.5 316.30 672.8 315.10 674.0 316.30 675.3 315.10 676.5 316.30 677.8 315.10 679.0 316.30 680.3 315.10 681.5 316.30 682.8 315.10 684.0 316.30 685.3 315.10 686.5 316.30 687.8 315.10 689.0 316.30 690.3 315.10 691.5 316.30 692.8 315.10 694.0 316.30 695.3 315.10 696.5 316.30 697.8 315.10 699.0 316.30 700.3 315.10 701.5 316.30 702.8 315.10 704.0 316.30 705.3 315.10 706.5 316.30 707.8 315.10 709.0 316.30 710.3 315.10 711.5 316.30 712.8 315.10 714.0 316.30 715.3 315.10 716.5 316.30 717.8 315.10 719.0 316.30 720.3 315.10 721.5 316.30 722.8 315.10 724.0 316.30 725.3 315.10 726.5 316.30 727.8 315.10 728.9 315.70" fill="none" stroke="#262626" stroke-width="1.7" stroke-linejoin="round"/>
<clipPath id="gc8"><rect x="536.9" y="428.6" width="210.70000000000005" height="13.199999999999989"/></clipPath>
<rect x="536.9" y="428.6" width="210.70000000000005" height="13.199999999999989" fill="#505050"/>
<path clip-path="url(#gc8)" d="M531.8 420.4L528.3 423.9M533.1 421.7L529.6 425.2M534.4 423.1L530.9 426.6M539.8 420.4L536.3 423.9M541.1 421.7L537.6 425.2M542.4 423.1L538.9 426.6M534.9 424.4L538.4 427.9M533.6 425.7L537.1 429.2M532.3 427.1L535.8 430.6M531.8 428.4L528.3 431.9M533.1 429.7L529.6 433.2M534.4 431.1L530.9 434.6M547.8 420.4L544.3 423.9M549.1 421.7L545.6 425.2M550.4 423.1L546.9 426.6M542.9 424.4L546.4 427.9M541.6 425.7L545.1 429.2M540.3 427.1L543.8 430.6M539.8 428.4L536.3 431.9M541.1 429.7L537.6 433.2M542.4 431.1L538.9 434.6M534.9 432.4L538.4 435.9M533.6 433.7L537.1 437.2M532.3 435.1L535.8 438.6M531.8 436.4L528.3 439.9M533.1 437.7L529.6 441.2M534.4 439.0L530.9 442.5M555.7 420.4L552.2 423.9M557.1 421.7L553.6 425.2M558.4 423.1L554.9 426.6M550.9 424.4L554.4 427.9M549.6 425.7L553.1 429.2M548.2 427.1L551.7 430.6M547.8 428.4L544.3 431.9M549.1 429.7L545.6 433.2M550.4 431.1L546.9 434.6M542.9 432.4L546.4 435.9M541.6 433.7L545.1 437.2M540.3 435.1L543.8 438.6M539.8 436.4L536.3 439.9M541.1 437.7L537.6 441.2M542.4 439.0L538.9 442.5M534.9 440.4L538.4 443.9M533.6 441.7L537.1 445.2M532.3 443.0L535.8 446.5M563.7 420.4L560.2 423.9M565.1 421.7L561.6 425.2M566.4 423.1L562.9 426.6M558.9 424.4L562.4 427.9M557.6 425.7L561.1 429.2M556.2 427.1L559.7 430.6M555.7 428.4L552.2 431.9M557.1 429.7L553.6 433.2M558.4 431.1L554.9 434.6M550.9 432.4L554.4 435.9M549.6 433.7L553.1 437.2M548.2 435.1L551.7 438.6M547.8 436.4L544.3 439.9M549.1 437.7L545.6 441.2M550.4 439.0L546.9 442.5M542.9 440.4L546.4 443.9M541.6 441.7L545.1 445.2M540.3 443.0L543.8 446.5M571.7 420.4L568.2 423.9M573.1 421.7L569.6 425.2M574.4 423.1L570.9 426.6M566.9 424.4L570.4 427.9M565.6 425.7L569.1 429.2M564.2 427.1L567.7 430.6M563.7 428.4L560.2 431.9M565.1 429.7L561.6 433.2M566.4 431.1L562.9 434.6M558.9 432.4L562.4 435.9M557.6 433.7L561.1 437.2M556.2 435.1L559.7 438.6M555.7 436.4L552.2 439.9M557.1 437.7L553.6 441.2M558.4 439.0L554.9 442.5M550.9 440.4L554.4 443.9M549.6 441.7L553.1 445.2M548.2 443.0L551.7 446.5M579.7 420.4L576.2 423.9M581.0 421.7L577.5 425.2M582.4 423.1L578.9 426.6M574.9 424.4L578.4 427.9M573.6 425.7L577.1 429.2M572.2 427.1L575.7 430.6M571.7 428.4L568.2 431.9M573.1 429.7L569.6 433.2M574.4 431.1L570.9 434.6M566.9 432.4L570.4 435.9M565.6 433.7L569.1 437.2M564.2 435.1L567.7 438.6M563.7 436.4L560.2 439.9M565.1 437.7L561.6 441.2M566.4 439.0L562.9 442.5M558.9 440.4L562.4 443.9M557.6 441.7L561.1 445.2M556.2 443.0L559.7 446.5M587.7 420.4L584.2 423.9M589.0 421.7L585.5 425.2M590.4 423.1L586.9 426.6M582.9 424.4L586.4 427.9M581.5 425.7L585.0 429.2M580.2 427.1L583.7 430.6M579.7 428.4L576.2 431.9M581.0 429.7L577.5 433.2M582.4 431.1L578.9 434.6M574.9 432.4L578.4 435.9M573.6 433.7L577.1 437.2M572.2 435.1L575.7 438.6M571.7 436.4L568.2 439.9M573.1 437.7L569.6 441.2M574.4 439.0L570.9 442.5M566.9 440.4L570.4 443.9M565.6 441.7L569.1 445.2M564.2 443.0L567.7 446.5M595.7 420.4L592.2 423.9M597.0 421.7L593.5 425.2M598.4 423.1L594.9 426.6M590.9 424.4L594.4 427.9M589.5 425.7L593.0 429.2M588.2 427.1L591.7 430.6M587.7 428.4L584.2 431.9M589.0 429.7L585.5 433.2M590.4 431.1L586.9 434.6M582.9 432.4L586.4 435.9M581.5 433.7L585.0 437.2M580.2 435.1L583.7 438.6M579.7 436.4L576.2 439.9M581.0 437.7L577.5 441.2M582.4 439.0L578.9 442.5M574.9 440.4L578.4 443.9M573.6 441.7L577.1 445.2M572.2 443.0L575.7 446.5M603.7 420.4L600.2 423.9M605.0 421.7L601.5 425.2M606.3 423.1L602.8 426.6M598.9 424.4L602.4 427.9M597.5 425.7L601.0 429.2M596.2 427.1L599.7 430.6M595.7 428.4L592.2 431.9M597.0 429.7L593.5 433.2M598.4 431.1L594.9 434.6M590.9 432.4L594.4 435.9M589.5 433.7L593.0 437.2M588.2 435.1L591.7 438.6M587.7 436.4L584.2 439.9M589.0 437.7L585.5 441.2M590.4 439.0L586.9 442.5M582.9 440.4L586.4 443.9M581.5 441.7L585.0 445.2M580.2 443.0L583.7 446.5M611.7 420.4L608.2 423.9M613.0 421.7L609.5 425.2M614.3 423.1L610.8 426.6M606.8 424.4L610.3 427.9M605.5 425.7L609.0 429.2M604.2 427.1L607.7 430.6M603.7 428.4L600.2 431.9M605.0 429.7L601.5 433.2M606.3 431.1L602.8 434.6M598.9 432.4L602.4 435.9M597.5 433.7L601.0 437.2M596.2 435.1L599.7 438.6M595.7 436.4L592.2 439.9M597.0 437.7L593.5 441.2M598.4 439.0L594.9 442.5M590.9 440.4L594.4 443.9M589.5 441.7L593.0 445.2M588.2 443.0L591.7 446.5M619.7 420.4L616.2 423.9M621.0 421.7L617.5 425.2M622.3 423.1L618.8 426.6M614.8 424.4L618.3 427.9M613.5 425.7L617.0 429.2M612.2 427.1L615.7 430.6M611.7 428.4L608.2 431.9M613.0 429.7L609.5 433.2M614.3 431.1L610.8 434.6M606.8 432.4L610.3 435.9M605.5 433.7L609.0 437.2M604.2 435.1L607.7 438.6M603.7 436.4L600.2 439.9M605.0 437.7L601.5 441.2M606.3 439.0L602.8 442.5M598.9 440.4L602.4 443.9M597.5 441.7L601.0 445.2M596.2 443.0L599.7 446.5M627.7 420.4L624.2 423.9M629.0 421.7L625.5 425.2M630.3 423.1L626.8 426.6M622.8 424.4L626.3 427.9M621.5 425.7L625.0 429.2M620.2 427.1L623.7 430.6M619.7 428.4L616.2 431.9M621.0 429.7L617.5 433.2M622.3 431.1L618.8 434.6M614.8 432.4L618.3 435.9M613.5 433.7L617.0 437.2M612.2 435.1L615.7 438.6M611.7 436.4L608.2 439.9M613.0 437.7L609.5 441.2M614.3 439.0L610.8 442.5M606.8 440.4L610.3 443.9M605.5 441.7L609.0 445.2M604.2 443.0L607.7 446.5M635.6 420.4L632.1 423.9M637.0 421.7L633.5 425.2M638.3 423.1L634.8 426.6M630.8 424.4L634.3 427.9M629.5 425.7L633.0 429.2M628.2 427.1L631.7 430.6M627.7 428.4L624.2 431.9M629.0 429.7L625.5 433.2M630.3 431.1L626.8 434.6M622.8 432.4L626.3 435.9M621.5 433.7L625.0 437.2M620.2 435.1L623.7 438.6M619.7 436.4L616.2 439.9M621.0 437.7L617.5 441.2M622.3 439.0L618.8 442.5M614.8 440.4L618.3 443.9M613.5 441.7L617.0 445.2M612.2 443.0L615.7 446.5M643.6 420.4L640.1 423.9M645.0 421.7L641.5 425.2M646.3 423.1L642.8 426.6M638.8 424.4L642.3 427.9M637.5 425.7L641.0 429.2M636.1 427.1L639.6 430.6M635.6 428.4L632.1 431.9M637.0 429.7L633.5 433.2M638.3 431.1L634.8 434.6M630.8 432.4L634.3 435.9M629.5 433.7L633.0 437.2M628.2 435.1L631.7 438.6M627.7 436.4L624.2 439.9M629.0 437.7L625.5 441.2M630.3 439.0L626.8 442.5M622.8 440.4L626.3 443.9M621.5 441.7L625.0 445.2M620.2 443.0L623.7 446.5M651.6 420.4L648.1 423.9M653.0 421.7L649.5 425.2M654.3 423.1L650.8 426.6M646.8 424.4L650.3 427.9M645.5 425.7L649.0 429.2M644.1 427.1L647.6 430.6M643.6 428.4L640.1 431.9M645.0 429.7L641.5 433.2M646.3 431.1L642.8 434.6M638.8 432.4L642.3 435.9M637.5 433.7L641.0 437.2M636.1 435.1L639.6 438.6M635.6 436.4L632.1 439.9M637.0 437.7L633.5 441.2M638.3 439.0L634.8 442.5M630.8 440.4L634.3 443.9M629.5 441.7L633.0 445.2M628.2 443.0L631.7 446.5M659.6 420.4L656.1 423.9M661.0 421.7L657.5 425.2M662.3 423.1L658.8 426.6M654.8 424.4L658.3 427.9M653.5 425.7L657.0 429.2M652.1 427.1L655.6 430.6M651.6 428.4L648.1 431.9M653.0 429.7L649.5 433.2M654.3 431.1L650.8 434.6M646.8 432.4L650.3 435.9M645.5 433.7L649.0 437.2M644.1 435.1L647.6 438.6M643.6 436.4L640.1 439.9M645.0 437.7L641.5 441.2M646.3 439.0L642.8 442.5M638.8 440.4L642.3 443.9M637.5 441.7L641.0 445.2M636.1 443.0L639.6 446.5M667.6 420.4L664.1 423.9M668.9 421.7L665.4 425.2M670.3 423.1L666.8 426.6M662.8 424.4L666.3 427.9M661.4 425.7L664.9 429.2M660.1 427.1L663.6 430.6M659.6 428.4L656.1 431.9M661.0 429.7L657.5 433.2M662.3 431.1L658.8 434.6M654.8 432.4L658.3 435.9M653.5 433.7L657.0 437.2M652.1 435.1L655.6 438.6M651.6 436.4L648.1 439.9M653.0 437.7L649.5 441.2M654.3 439.0L650.8 442.5M646.8 440.4L650.3 443.9M645.5 441.7L649.0 445.2M644.1 443.0L647.6 446.5M675.6 420.4L672.1 423.9M676.9 421.7L673.4 425.2M678.3 423.1L674.8 426.6M670.8 424.4L674.3 427.9M669.4 425.7L672.9 429.2M668.1 427.1L671.6 430.6M667.6 428.4L664.1 431.9M668.9 429.7L665.4 433.2M670.3 431.1L666.8 434.6M662.8 432.4L666.3 435.9M661.4 433.7L664.9 437.2M660.1 435.1L663.6 438.6M659.6 436.4L656.1 439.9M661.0 437.7L657.5 441.2M662.3 439.0L658.8 442.5M654.8 440.4L658.3 443.9M653.5 441.7L657.0 445.2M652.1 443.0L655.6 446.5M683.6 420.4L680.1 423.9M684.9 421.7L681.4 425.2M686.3 423.1L682.8 426.6M678.8 424.4L682.3 427.9M677.4 425.7L680.9 429.2M676.1 427.1L679.6 430.6M675.6 428.4L672.1 431.9M676.9 429.7L673.4 433.2M678.3 431.1L674.8 434.6M670.8 432.4L674.3 435.9M669.4 433.7L672.9 437.2M668.1 435.1L671.6 438.6M667.6 436.4L664.1 439.9M668.9 437.7L665.4 441.2M670.3 439.0L666.8 442.5M662.8 440.4L666.3 443.9M661.4 441.7L664.9 445.2M660.1 443.0L663.6 446.5M691.6 420.4L688.1 423.9M692.9 421.7L689.4 425.2M694.2 423.1L690.7 426.6M686.7 424.4L690.2 427.9M685.4 425.7L688.9 429.2M684.1 427.1L687.6 430.6M683.6 428.4L680.1 431.9M684.9 429.7L681.4 433.2M686.3 431.1L682.8 434.6M678.8 432.4L682.3 435.9M677.4 433.7L680.9 437.2M676.1 435.1L679.6 438.6M675.6 436.4L672.1 439.9M676.9 437.7L673.4 441.2M678.3 439.0L674.8 442.5M670.8 440.4L674.3 443.9M669.4 441.7L672.9 445.2M668.1 443.0L671.6 446.5M699.6 420.4L696.1 423.9M700.9 421.7L697.4 425.2M702.2 423.1L698.7 426.6M694.7 424.4L698.2 427.9M693.4 425.7L696.9 429.2M692.1 427.1L695.6 430.6M691.6 428.4L688.1 431.9M692.9 429.7L689.4 433.2M694.2 431.1L690.7 434.6M686.7 432.4L690.2 435.9M685.4 433.7L688.9 437.2M684.1 435.1L687.6 438.6M683.6 436.4L680.1 439.9M684.9 437.7L681.4 441.2M686.3 439.0L682.8 442.5M678.8 440.4L682.3 443.9M677.4 441.7L680.9 445.2M676.1 443.0L679.6 446.5M707.6 420.4L704.1 423.9M708.9 421.7L705.4 425.2M710.2 423.1L706.7 426.6M702.7 424.4L706.2 427.9M701.4 425.7L704.9 429.2M700.1 427.1L703.6 430.6M699.6 428.4L696.1 431.9M700.9 429.7L697.4 433.2M702.2 431.1L698.7 434.6M694.7 432.4L698.2 435.9M693.4 433.7L696.9 437.2M692.1 435.1L695.6 438.6M691.6 436.4L688.1 439.9M692.9 437.7L689.4 441.2M694.2 439.0L690.7 442.5M686.7 440.4L690.2 443.9M685.4 441.7L688.9 445.2M684.1 443.0L687.6 446.5M715.6 420.4L712.1 423.9M716.9 421.7L713.4 425.2M718.2 423.1L714.7 426.6M710.7 424.4L714.2 427.9M709.4 425.7L712.9 429.2M708.1 427.1L711.6 430.6M707.6 428.4L704.1 431.9M708.9 429.7L705.4 433.2M710.2 431.1L706.7 434.6M702.7 432.4L706.2 435.9M701.4 433.7L704.9 437.2M700.1 435.1L703.6 438.6M699.6 436.4L696.1 439.9M700.9 437.7L697.4 441.2M702.2 439.0L698.7 442.5M694.7 440.4L698.2 443.9M693.4 441.7L696.9 445.2M692.1 443.0L695.6 446.5M723.5 420.4L720.0 423.9M724.9 421.7L721.4 425.2M726.2 423.1L722.7 426.6M718.7 424.4L722.2 427.9M717.4 425.7L720.9 429.2M716.0 427.1L719.5 430.6M715.6 428.4L712.1 431.9M716.9 429.7L713.4 433.2M718.2 431.1L714.7 434.6M710.7 432.4L714.2 435.9M709.4 433.7L712.9 437.2M708.1 435.1L711.6 438.6M707.6 436.4L704.1 439.9M708.9 437.7L705.4 441.2M710.2 439.0L706.7 442.5M702.7 440.4L706.2 443.9M701.4 441.7L704.9 445.2M700.1 443.0L703.6 446.5M731.5 420.4L728.0 423.9M732.9 421.7L729.4 425.2M734.2 423.1L730.7 426.6M726.7 424.4L730.2 427.9M725.4 425.7L728.9 429.2M724.0 427.1L727.5 430.6M723.5 428.4L720.0 431.9M724.9 429.7L721.4 433.2M726.2 431.1L722.7 434.6M718.7 432.4L722.2 435.9M717.4 433.7L720.9 437.2M716.0 435.1L719.5 438.6M715.6 436.4L712.1 439.9M716.9 437.7L713.4 441.2M718.2 439.0L714.7 442.5M710.7 440.4L714.2 443.9M709.4 441.7L712.9 445.2M708.1 443.0L711.6 446.5M739.5 420.4L736.0 423.9M740.9 421.7L737.4 425.2M742.2 423.1L738.7 426.6M734.7 424.4L738.2 427.9M733.4 425.7L736.9 429.2M732.0 427.1L735.5 430.6M731.5 428.4L728.0 431.9M732.9 429.7L729.4 433.2M734.2 431.1L730.7 434.6M726.7 432.4L730.2 435.9M725.4 433.7L728.9 437.2M724.0 435.1L727.5 438.6M723.5 436.4L720.0 439.9M724.9 437.7L721.4 441.2M726.2 439.0L722.7 442.5M718.7 440.4L722.2 443.9M717.4 441.7L720.9 445.2M716.0 443.0L719.5 446.5M747.5 420.4L744.0 423.9M748.8 421.7L745.3 425.2M750.2 423.1L746.7 426.6M742.7 424.4L746.2 427.9M741.3 425.7L744.8 429.2M740.0 427.1L743.5 430.6M739.5 428.4L736.0 431.9M740.9 429.7L737.4 433.2M742.2 431.1L738.7 434.6M734.7 432.4L738.2 435.9M733.4 433.7L736.9 437.2M732.0 435.1L735.5 438.6M731.5 436.4L728.0 439.9M732.9 437.7L729.4 441.2M734.2 439.0L730.7 442.5M726.7 440.4L730.2 443.9M725.4 441.7L728.9 445.2M724.0 443.0L727.5 446.5M750.7 424.4L754.2 427.9M749.3 425.7L752.8 429.2M748.0 427.1L751.5 430.6M747.5 428.4L744.0 431.9M748.8 429.7L745.3 433.2M750.2 431.1L746.7 434.6M742.7 432.4L746.2 435.9M741.3 433.7L744.8 437.2M740.0 435.1L743.5 438.6M739.5 436.4L736.0 439.9M740.9 437.7L737.4 441.2M742.2 439.0L738.7 442.5M734.7 440.4L738.2 443.9M733.4 441.7L736.9 445.2M732.0 443.0L735.5 446.5M750.7 432.4L754.2 435.9M749.3 433.7L752.8 437.2M748.0 435.1L751.5 438.6M747.5 436.4L744.0 439.9M748.8 437.7L745.3 441.2M750.2 439.0L746.7 442.5M742.7 440.4L746.2 443.9M741.3 441.7L744.8 445.2M740.0 443.0L743.5 446.5M750.7 440.4L754.2 443.9M749.3 441.7L752.8 445.2M748.0 443.0L751.5 446.5" stroke="#fff" stroke-width="1.2" fill="none"/>
<path d="M536.9 428.6H747.6" stroke="#333" stroke-width="0.9"/>
<path d="M537.0 428.6 L537.3 421.8 L539.0 420.0 L541.0 418.4 L543.0 416.9 L544.3 416.1 L546.0 417.1 L548.0 418.1 L549.8 419.2 L551.5 422.8 L553.6 425.0 L556.5 425.5 L559.2 425.4 L559.9 422.8 L561.8 420.5 L563.5 419.7 L565.5 420.2 L568.7 421.4 L570.5 424.3 L573.2 425.7 L576.5 426.4 L577.2 426.1 L577.6 423.6 L579.0 423.3 L580.0 424.1 L580.5 428.6Z" fill="#6cb95b"/>
<path d="M535.9 428.6L536.3 420.1L538.7 428.6ZM537.2 428.6L537.9 418.3L539.3 428.6ZM538.4 428.6L539.3 418.5L540.5 428.6ZM539.3 428.6L541.3 416.2L541.5 428.6ZM540.1 428.6L542.7 414.3L542.8 428.6ZM541.1 428.6L541.3 411.6L544.1 428.6ZM542.5 428.6L542.6 414.5L544.8 428.6ZM543.7 428.6L545.3 414.4L546.4 428.6ZM545.1 428.6L544.9 413.5L547.2 428.6ZM546.0 428.6L547.0 413.6L548.4 428.6ZM547.0 428.6L547.9 415.4L549.9 428.6ZM548.4 428.6L550.0 417.3L551.1 428.6ZM549.6 428.6L550.6 419.6L552.8 428.6ZM551.1 428.6L552.9 422.1L553.2 428.6ZM551.9 428.6L553.8 424.2L554.8 428.6ZM553.2 428.6L554.1 423.6L556.0 428.6ZM554.3 428.6L555.7 424.3L557.3 428.6ZM556.3 428.6L557.8 424.5L558.3 428.6ZM557.1 428.6L560.0 424.2L560.1 428.6ZM558.7 428.6L560.2 422.2L560.7 428.6ZM559.8 428.6L559.8 420.4L561.9 428.6ZM561.0 428.6L561.5 418.9L563.5 428.6ZM562.3 428.6L563.5 418.5L565.0 428.6ZM563.9 428.6L566.1 416.5L566.3 428.6ZM564.7 428.6L567.3 418.5L567.8 428.6ZM566.1 428.6L566.5 419.5L568.4 428.6ZM567.4 428.6L567.8 418.8L569.4 428.6ZM568.0 428.6L569.8 421.3L571.1 428.6ZM569.5 428.6L571.2 423.2L572.3 428.6ZM570.3 428.6L572.6 423.3L573.3 428.6ZM572.1 428.6L572.9 425.0L574.3 428.6ZM573.4 428.6L573.3 425.6L575.6 428.6ZM574.5 428.6L574.2 425.6L576.5 428.6ZM575.5 428.6L576.1 426.1L577.5 428.6ZM576.7 428.6L576.9 421.7L579.0 428.6ZM577.5 428.6L577.9 421.9L580.5 428.6Z" fill="#6cb95b" fill-opacity="0.9"/>
<path d="M538.0 427.1L537.8 421.0M539.7 427.1L537.7 420.1M541.6 427.1L543.2 419.6M543.2 427.1L545.4 416.5M544.9 427.1L545.1 419.2M547.0 427.1L549.4 415.6M549.3 427.1L548.2 419.5M551.1 427.1L552.5 421.9M553.5 427.1L552.6 425.4M560.9 427.1L562.5 420.4M563.3 427.1L561.9 419.7M565.2 427.1L562.9 422.1M567.1 427.1L565.9 420.0M569.7 427.1L569.4 421.7" stroke="#d9f0d2" stroke-opacity="0.55" stroke-width="0.6" fill="none"/>
<path d="M699.6 428.6 L699.9 421.8 L701.6 420.0 L703.6 418.4 L705.6 416.9 L706.9 416.1 L708.6 417.1 L710.6 418.1 L712.4 419.2 L714.1 422.8 L716.2 425.0 L719.1 425.5 L721.8 425.4 L722.5 422.8 L724.4 420.5 L726.1 419.7 L728.1 420.2 L731.3 421.4 L733.1 424.3 L735.8 425.7 L739.1 426.4 L739.8 426.1 L740.2 423.6 L741.6 423.3 L742.6 424.1 L743.1 428.6Z" fill="#6cb95b"/>
<path d="M698.5 428.6L698.9 420.1L701.3 428.6ZM699.8 428.6L700.5 418.3L701.9 428.6ZM701.0 428.6L701.9 418.5L703.1 428.6ZM701.9 428.6L703.9 416.2L704.1 428.6ZM702.7 428.6L705.3 414.3L705.4 428.6ZM703.7 428.6L703.9 411.6L706.7 428.6ZM705.1 428.6L705.2 414.5L707.4 428.6ZM706.3 428.6L707.9 414.4L709.0 428.6ZM707.7 428.6L707.5 413.5L709.8 428.6ZM708.6 428.6L709.6 413.6L711.0 428.6ZM709.6 428.6L710.5 415.4L712.5 428.6ZM711.0 428.6L712.6 417.3L713.7 428.6ZM712.2 428.6L713.2 419.6L715.4 428.6ZM713.7 428.6L715.5 422.1L715.8 428.6ZM714.5 428.6L716.4 424.2L717.4 428.6ZM715.8 428.6L716.7 423.6L718.6 428.6ZM716.9 428.6L718.3 424.3L719.9 428.6ZM718.9 428.6L720.4 424.5L720.9 428.6ZM719.7 428.6L722.6 424.2L722.7 428.6ZM721.3 428.6L722.8 422.2L723.3 428.6ZM722.4 428.6L722.4 420.4L724.5 428.6ZM723.6 428.6L724.1 418.9L726.1 428.6ZM724.9 428.6L726.1 418.5L727.6 428.6ZM726.5 428.6L728.7 416.5L728.9 428.6ZM727.3 428.6L729.9 418.5L730.4 428.6ZM728.7 428.6L729.1 419.5L731.0 428.6ZM730.0 428.6L730.4 418.8L732.0 428.6ZM730.6 428.6L732.4 421.3L733.7 428.6ZM732.1 428.6L733.8 423.2L734.9 428.6ZM732.9 428.6L735.2 423.3L735.9 428.6ZM734.7 428.6L735.5 425.0L736.9 428.6ZM736.0 428.6L735.9 425.6L738.2 428.6ZM737.1 428.6L736.8 425.6L739.1 428.6ZM738.1 428.6L738.7 426.1L740.1 428.6ZM739.3 428.6L739.5 421.7L741.6 428.6ZM740.1 428.6L740.5 421.9L743.1 428.6Z" fill="#6cb95b" fill-opacity="0.9"/>
<path d="M700.6 427.1L700.4 421.0M702.3 427.1L700.3 420.1M704.2 427.1L705.8 419.6M705.8 427.1L708.0 416.5M707.5 427.1L707.7 419.2M709.6 427.1L712.0 415.6M711.9 427.1L710.8 419.5M713.7 427.1L715.1 421.9M716.1 427.1L715.2 425.4M723.5 427.1L725.1 420.4M725.9 427.1L724.5 419.7M727.8 427.1L725.5 422.1M729.7 427.1L728.5 420.0M732.3 427.1L732.0 421.7" stroke="#d9f0d2" stroke-opacity="0.55" stroke-width="0.6" fill="none"/>
<text x="509.4" y="465.2" font-family="'Liberation Serif', serif" font-size="16.6" fill="#151515" stroke="#151515" stroke-width="0.18" textLength="96.1" lengthAdjust="spacingAndGlyphs">PROSPETTO</text>
<text x="615.6" y="465.2" font-family="'Liberation Serif', serif" font-size="16.6" fill="#151515" stroke="#151515" stroke-width="0.18" textLength="87.0" lengthAdjust="spacingAndGlyphs">LATERALE</text>
<text x="706.2" y="465.2" font-family="'Liberation Serif', serif" font-size="16.6" fill="#151515" stroke="#151515" stroke-width="0.18" textLength="75.2" lengthAdjust="spacingAndGlyphs">SINISTRO</text>
<clipPath id="sc9"><rect x="101.5" y="432" width="108.5" height="111.20000000000005"/></clipPath>
<g clip-path="url(#sc9)" shape-rendering="crispEdges">
<path d="M101 432H210V433H101ZM101 438H210V439H101ZM101 444H210V445H101ZM101 449H210V450H101ZM101 455H210V456H101ZM101 461H210V462H101ZM101 466H210V467H101ZM101 472H210V473H101ZM101 478H210V479H101ZM101 483H210V484H101ZM101 489H210V490H101ZM101 495H210V496H101ZM101 500H210V501H101ZM101 506H210V507H101ZM101 512H210V513H101ZM101 517H210V518H101ZM101 523H210V524H101ZM101 529H210V530H101ZM101 534H210V535H101ZM101 540H210V541H101Z" fill="#fff"/>
<path d="M101 433H210V434H101ZM101 450H210V451H101ZM101 467H210V468H101ZM101 484H210V485H101ZM101 501H210V502H101ZM101 518H210V519H101ZM101 535H210V536H101Z" fill="#e8e8e8"/>
<path d="M101 434H210V435H101ZM101 445H210V446H101ZM101 451H210V452H101ZM101 462H210V463H101ZM101 468H210V469H101ZM101 479H210V480H101ZM101 485H210V486H101ZM101 496H210V497H101ZM101 502H210V503H101ZM101 513H210V514H101ZM101 519H210V520H101ZM101 530H210V531H101ZM101 536H210V537H101Z" fill="#6c6c6c"/>
<path d="M101 435H210V436H101ZM101 446H210V447H101ZM101 452H210V453H101ZM101 463H210V464H101ZM101 469H210V470H101ZM101 480H210V481H101ZM101 486H210V487H101ZM101 497H210V498H101ZM101 503H210V504H101ZM101 514H210V515H101ZM101 520H210V521H101ZM101 531H210V532H101ZM101 537H210V538H101Z" fill="#c8c8c8"/>
<path d="M101 436H210V437H101ZM101 447H210V448H101ZM101 453H210V454H101ZM101 464H210V465H101ZM101 470H210V471H101ZM101 481H210V482H101ZM101 487H210V488H101ZM101 498H210V499H101ZM101 504H210V505H101ZM101 515H210V516H101ZM101 521H210V522H101ZM101 532H210V533H101ZM101 538H210V539H101Z" fill="#666"/>
<path d="M101 437H210V438H101ZM101 443H210V444H101ZM101 448H210V449H101ZM101 454H210V455H101ZM101 460H210V461H101ZM101 465H210V466H101ZM101 471H210V472H101ZM101 477H210V478H101ZM101 482H210V483H101ZM101 488H210V489H101ZM101 494H210V495H101ZM101 499H210V500H101ZM101 505H210V506H101ZM101 511H210V512H101ZM101 516H210V517H101ZM101 522H210V523H101ZM101 528H210V529H101ZM101 533H210V534H101ZM101 539H210V540H101Z" fill="#f4f4f4"/>
<path d="M101 439H210V440H101ZM101 456H210V457H101ZM101 473H210V474H101ZM101 490H210V491H101ZM101 507H210V508H101ZM101 524H210V525H101ZM101 541H210V542H101Z" fill="#dcdcdc"/>
<path d="M101 440H210V441H101ZM101 457H210V458H101ZM101 474H210V475H101ZM101 491H210V492H101ZM101 508H210V509H101ZM101 525H210V526H101ZM101 542H210V543H101Z" fill="#a2a2a2"/>
<path d="M101 441H210V442H101ZM101 458H210V459H101ZM101 475H210V476H101ZM101 492H210V493H101ZM101 509H210V510H101ZM101 526H210V527H101ZM101 543H210V544H101Z" fill="#9c9c9c"/>
<path d="M101 442H210V443H101ZM101 459H210V460H101ZM101 476H210V477H101ZM101 493H210V494H101ZM101 510H210V511H101ZM101 527H210V528H101Z" fill="#b8b8b8"/>
</g>
<clipPath id="sc10"><rect x="210" y="466" width="225" height="77.20000000000005"/></clipPath>
<g clip-path="url(#sc10)" shape-rendering="crispEdges">
<path d="M210 466H435V467H210ZM210 472H435V473H210ZM210 478H435V479H210ZM210 483H435V484H210ZM210 489H435V490H210ZM210 495H435V496H210ZM210 500H435V501H210ZM210 506H435V507H210ZM210 512H435V513H210ZM210 517H435V518H210ZM210 523H435V524H210ZM210 529H435V530H210ZM210 534H435V535H210ZM210 540H435V541H210Z" fill="#fff"/>
<path d="M210 467H435V468H210ZM210 484H435V485H210ZM210 501H435V502H210ZM210 518H435V519H210ZM210 535H435V536H210Z" fill="#e8e8e8"/>
<path d="M210 468H435V469H210ZM210 479H435V480H210ZM210 485H435V486H210ZM210 496H435V497H210ZM210 502H435V503H210ZM210 513H435V514H210ZM210 519H435V520H210ZM210 530H435V531H210ZM210 536H435V537H210Z" fill="#6c6c6c"/>
<path d="M210 469H435V470H210ZM210 480H435V481H210ZM210 486H435V487H210ZM210 497H435V498H210ZM210 503H435V504H210ZM210 514H435V515H210ZM210 520H435V521H210ZM210 531H435V532H210ZM210 537H435V538H210Z" fill="#c8c8c8"/>
<path d="M210 470H435V471H210ZM210 481H435V482H210ZM210 487H435V488H210ZM210 498H435V499H210ZM210 504H435V505H210ZM210 515H435V516H210ZM210 521H435V522H210ZM210 532H435V533H210ZM210 538H435V539H210Z" fill="#666"/>
<path d="M210 471H435V472H210ZM210 477H435V478H210ZM210 482H435V483H210ZM210 488H435V489H210ZM210 494H435V495H210ZM210 499H435V500H210ZM210 505H435V506H210ZM210 511H435V512H210ZM210 516H435V517H210ZM210 522H435V523H210ZM210 528H435V529H210ZM210 533H435V534H210ZM210 539H435V540H210Z" fill="#f4f4f4"/>
<path d="M210 473H435V474H210ZM210 490H435V491H210ZM210 507H435V508H210ZM210 524H435V525H210ZM210 541H435V542H210Z" fill="#dcdcdc"/>
<path d="M210 474H435V475H210ZM210 491H435V492H210ZM210 508H435V509H210ZM210 525H435V526H210ZM210 542H435V543H210Z" fill="#a2a2a2"/>
<path d="M210 475H435V476H210ZM210 492H435V493H210ZM210 509H435V510H210ZM210 526H435V527H210ZM210 543H435V544H210Z" fill="#9c9c9c"/>
<path d="M210 476H435V477H210ZM210 493H435V494H210ZM210 510H435V511H210ZM210 527H435V528H210Z" fill="#b8b8b8"/>
</g>
<path d="M101.6 430.8V543.2" stroke="#333" stroke-width="0.9" fill="none"/>
<path d="M210 430.8V465.5" stroke="#333" stroke-width="0.9" fill="none"/>
<path d="M435.1 465V543.2" stroke="#333" stroke-width="0.9" fill="none"/>
<path d="M210 465.5V543.2" stroke="#777" stroke-width="0.6" fill="none"/>
<polyline points="101.2 430.80 102.5 432.00 103.7 430.80 105.0 432.00 106.2 430.80 107.5 432.00 108.7 430.80 110.0 432.00 111.2 430.80 112.5 432.00 113.7 430.80 115.0 432.00 116.2 430.80 117.5 432.00 118.7 430.80 120.0 432.00 121.2 430.80 122.5 432.00 123.7 430.80 125.0 432.00 126.2 430.80 127.5 432.00 128.7 430.80 129.9 432.00 131.2 430.80 132.4 432.00 133.7 430.80 134.9 432.00 136.2 430.80 137.4 432.00 138.7 430.80 139.9 432.00 141.2 430.80 142.4 432.00 143.7 430.80 144.9 432.00 146.2 430.80 147.4 432.00 148.7 430.80 149.9 432.00 151.2 430.80 152.4 432.00 153.7 430.80 154.9 432.00 156.2 430.80 157.4 432.00 158.7 430.80 159.9 432.00 161.2 430.80 162.4 432.00 163.7 430.80 164.9 432.00 166.2 430.80 167.4 432.00 168.7 430.80 169.9 432.00 171.2 430.80 172.4 432.00 173.7 430.80 174.9 432.00 176.2 430.80 177.4 432.00 178.7 430.80 179.9 432.00 181.2 430.80 182.4 432.00 183.7 430.80 184.9 432.00 186.2 430.80 187.4 432.00 188.7 430.80 189.9 432.00 191.2 430.80 192.4 432.00 193.7 430.80 194.9 432.00 196.2 430.80 197.4 432.00 198.7 430.80 199.9 432.00 201.2 430.80 202.4 432.00 203.7 430.80 204.9 432.00 206.2 430.80 207.4 432.00 208.7 430.80 209.9 432.00 210.2 431.40" fill="none" stroke="#262626" stroke-width="1.3" stroke-linejoin="round"/>
<polyline points="210.0 465.10 211.2 466.30 212.5 465.10 213.8 466.30 215.0 465.10 216.2 466.30 217.5 465.10 218.8 466.30 220.0 465.10 221.2 466.30 222.5 465.10 223.8 466.30 225.0 465.10 226.2 466.30 227.5 465.10 228.8 466.30 230.0 465.10 231.2 466.30 232.5 465.10 233.8 466.30 235.0 465.10 236.2 466.30 237.5 465.10 238.8 466.30 240.0 465.10 241.2 466.30 242.5 465.10 243.8 466.30 245.0 465.10 246.2 466.30 247.5 465.10 248.8 466.30 250.0 465.10 251.2 466.30 252.5 465.10 253.8 466.30 255.0 465.10 256.2 466.30 257.5 465.10 258.8 466.30 260.0 465.10 261.2 466.30 262.5 465.10 263.8 466.30 265.0 465.10 266.2 466.30 267.5 465.10 268.8 466.30 270.0 465.10 271.2 466.30 272.5 465.10 273.8 466.30 275.0 465.10 276.2 466.30 277.5 465.10 278.8 466.30 280.0 465.10 281.2 466.30 282.5 465.10 283.8 466.30 285.0 465.10 286.2 466.30 287.5 465.10 288.8 466.30 290.0 465.10 291.2 466.30 292.5 465.10 293.8 466.30 295.0 465.10 296.2 466.30 297.5 465.10 298.8 466.30 300.0 465.10 301.2 466.30 302.5 465.10 303.8 466.30 305.0 465.10 306.2 466.30 307.5 465.10 308.8 466.30 310.0 465.10 311.2 466.30 312.5 465.10 313.8 466.30 315.0 465.10 316.2 466.30 317.5 465.10 318.8 466.30 320.0 465.10 321.2 466.30 322.5 465.10 323.8 466.30 325.0 465.10 326.2 466.30 327.5 465.10 328.8 466.30 330.0 465.10 331.2 466.30 332.5 465.10 333.8 466.30 335.0 465.10 336.2 466.30 337.5 465.10 338.8 466.30 340.0 465.10 341.2 466.30 342.5 465.10 343.8 466.30 345.0 465.10 346.2 466.30 347.5 465.10 348.8 466.30 350.0 465.10 351.2 466.30 352.5 465.10 353.8 466.30 355.0 465.10 356.2 466.30 357.5 465.10 358.8 466.30 360.0 465.10 361.2 466.30 362.5 465.10 363.8 466.30 365.0 465.10 366.2 466.30 367.5 465.10 368.8 466.30 370.0 465.10 371.2 466.30 372.5 465.10 373.8 466.30 375.0 465.10 376.2 466.30 377.5 465.10 378.8 466.30 380.0 465.10 381.2 466.30 382.5 465.10 383.8 466.30 385.0 465.10 386.2 466.30 387.5 465.10 388.8 466.30 390.0 465.10 391.2 466.30 392.5 465.10 393.8 466.30 395.0 465.10 396.2 466.30 397.5 465.10 398.8 466.30 400.0 465.10 401.2 466.30 402.5 465.10 403.8 466.30 405.0 465.10 406.2 466.30 407.5 465.10 408.8 466.30 410.0 465.10 411.2 466.30 412.5 465.10 413.8 466.30 415.0 465.10 416.2 466.30 417.5 465.10 418.8 466.30 420.0 465.10 421.2 466.30 422.5 465.10 423.8 466.30 425.0 465.10 426.2 466.30 427.5 465.10 428.8 466.30 430.0 465.10 431.2 466.30 432.5 465.10 433.8 466.30 435.0 465.10 435.4 465.70" fill="none" stroke="#262626" stroke-width="1.3" stroke-linejoin="round"/>
<clipPath id="gc11"><rect x="68.1" y="543.2" width="397.9" height="14.099999999999909"/></clipPath>
<rect x="68.1" y="543.2" width="397.9" height="14.099999999999909" fill="#505050"/>
<path clip-path="url(#gc11)" d="M63.5 536.3L67.0 539.8M62.2 537.6L65.7 541.1M60.8 538.9L64.3 542.4M71.5 536.3L75.0 539.8M70.2 537.6L73.7 541.1M68.8 538.9L72.3 542.4M68.3 540.3L64.8 543.8M69.7 541.6L66.2 545.1M71.0 542.9L67.5 546.4M63.5 544.3L67.0 547.8M62.2 545.6L65.7 549.1M60.8 546.9L64.3 550.4M79.5 536.3L83.0 539.8M78.2 537.6L81.7 541.1M76.8 538.9L80.3 542.4M76.3 540.3L72.8 543.8M77.7 541.6L74.2 545.1M79.0 542.9L75.5 546.4M71.5 544.3L75.0 547.8M70.2 545.6L73.7 549.1M68.8 546.9L72.3 550.4M68.3 548.2L64.8 551.7M69.7 549.6L66.2 553.1M71.0 550.9L67.5 554.4M63.5 552.2L67.0 555.7M62.2 553.6L65.7 557.1M60.8 554.9L64.3 558.4M87.5 536.3L91.0 539.8M86.1 537.6L89.6 541.1M84.8 538.9L88.3 542.4M84.3 540.3L80.8 543.8M85.6 541.6L82.1 545.1M87.0 542.9L83.5 546.4M79.5 544.3L83.0 547.8M78.2 545.6L81.7 549.1M76.8 546.9L80.3 550.4M76.3 548.2L72.8 551.7M77.7 549.6L74.2 553.1M79.0 550.9L75.5 554.4M71.5 552.2L75.0 555.7M70.2 553.6L73.7 557.1M68.8 554.9L72.3 558.4M68.3 556.2L64.8 559.7M69.7 557.6L66.2 561.1M71.0 558.9L67.5 562.4M95.5 536.3L99.0 539.8M94.1 537.6L97.6 541.1M92.8 538.9L96.3 542.4M92.3 540.3L88.8 543.8M93.6 541.6L90.1 545.1M95.0 542.9L91.5 546.4M87.5 544.3L91.0 547.8M86.1 545.6L89.6 549.1M84.8 546.9L88.3 550.4M84.3 548.2L80.8 551.7M85.6 549.6L82.1 553.1M87.0 550.9L83.5 554.4M79.5 552.2L83.0 555.7M78.2 553.6L81.7 557.1M76.8 554.9L80.3 558.4M76.3 556.2L72.8 559.7M77.7 557.6L74.2 561.1M79.0 558.9L75.5 562.4M103.5 536.3L107.0 539.8M102.1 537.6L105.6 541.1M100.8 538.9L104.3 542.4M100.3 540.3L96.8 543.8M101.6 541.6L98.1 545.1M103.0 542.9L99.5 546.4M95.5 544.3L99.0 547.8M94.1 545.6L97.6 549.1M92.8 546.9L96.3 550.4M92.3 548.2L88.8 551.7M93.6 549.6L90.1 553.1M95.0 550.9L91.5 554.4M87.5 552.2L91.0 555.7M86.1 553.6L89.6 557.1M84.8 554.9L88.3 558.4M84.3 556.2L80.8 559.7M85.6 557.6L82.1 561.1M87.0 558.9L83.5 562.4M111.4 536.3L114.9 539.8M110.1 537.6L113.6 541.1M108.8 538.9L112.3 542.4M108.3 540.3L104.8 543.8M109.6 541.6L106.1 545.1M111.0 542.9L107.5 546.4M103.5 544.3L107.0 547.8M102.1 545.6L105.6 549.1M100.8 546.9L104.3 550.4M100.3 548.2L96.8 551.7M101.6 549.6L98.1 553.1M103.0 550.9L99.5 554.4M95.5 552.2L99.0 555.7M94.1 553.6L97.6 557.1M92.8 554.9L96.3 558.4M92.3 556.2L88.8 559.7M93.6 557.6L90.1 561.1M95.0 558.9L91.5 562.4M119.4 536.3L122.9 539.8M118.1 537.6L121.6 541.1M116.8 538.9L120.3 542.4M116.3 540.3L112.8 543.8M117.6 541.6L114.1 545.1M118.9 542.9L115.4 546.4M111.4 544.3L114.9 547.8M110.1 545.6L113.6 549.1M108.8 546.9L112.3 550.4M108.3 548.2L104.8 551.7M109.6 549.6L106.1 553.1M111.0 550.9L107.5 554.4M103.5 552.2L107.0 555.7M102.1 553.6L105.6 557.1M100.8 554.9L104.3 558.4M100.3 556.2L96.8 559.7M101.6 557.6L98.1 561.1M103.0 558.9L99.5 562.4M127.4 536.3L130.9 539.8M126.1 537.6L129.6 541.1M124.8 538.9L128.3 542.4M124.3 540.3L120.8 543.8M125.6 541.6L122.1 545.1M126.9 542.9L123.4 546.4M119.4 544.3L122.9 547.8M118.1 545.6L121.6 549.1M116.8 546.9L120.3 550.4M116.3 548.2L112.8 551.7M117.6 549.6L114.1 553.1M118.9 550.9L115.4 554.4M111.4 552.2L114.9 555.7M110.1 553.6L113.6 557.1M108.8 554.9L112.3 558.4M108.3 556.2L104.8 559.7M109.6 557.6L106.1 561.1M111.0 558.9L107.5 562.4M135.4 536.3L138.9 539.8M134.1 537.6L137.6 541.1M132.8 538.9L136.3 542.4M132.3 540.3L128.8 543.8M133.6 541.6L130.1 545.1M134.9 542.9L131.4 546.4M127.4 544.3L130.9 547.8M126.1 545.6L129.6 549.1M124.8 546.9L128.3 550.4M124.3 548.2L120.8 551.7M125.6 549.6L122.1 553.1M126.9 550.9L123.4 554.4M119.4 552.2L122.9 555.7M118.1 553.6L121.6 557.1M116.8 554.9L120.3 558.4M116.3 556.2L112.8 559.7M117.6 557.6L114.1 561.1M118.9 558.9L115.4 562.4M143.4 536.3L146.9 539.8M142.1 537.6L145.6 541.1M140.7 538.9L144.2 542.4M140.2 540.3L136.7 543.8M141.6 541.6L138.1 545.1M142.9 542.9L139.4 546.4M135.4 544.3L138.9 547.8M134.1 545.6L137.6 549.1M132.8 546.9L136.3 550.4M132.3 548.2L128.8 551.7M133.6 549.6L130.1 553.1M134.9 550.9L131.4 554.4M127.4 552.2L130.9 555.7M126.1 553.6L129.6 557.1M124.8 554.9L128.3 558.4M124.3 556.2L120.8 559.7M125.6 557.6L122.1 561.1M126.9 558.9L123.4 562.4M151.4 536.3L154.9 539.8M150.1 537.6L153.6 541.1M148.7 538.9L152.2 542.4M148.2 540.3L144.7 543.8M149.6 541.6L146.1 545.1M150.9 542.9L147.4 546.4M143.4 544.3L146.9 547.8M142.1 545.6L145.6 549.1M140.7 546.9L144.2 550.4M140.2 548.2L136.7 551.7M141.6 549.6L138.1 553.1M142.9 550.9L139.4 554.4M135.4 552.2L138.9 555.7M134.1 553.6L137.6 557.1M132.8 554.9L136.3 558.4M132.3 556.2L128.8 559.7M133.6 557.6L130.1 561.1M134.9 558.9L131.4 562.4M159.4 536.3L162.9 539.8M158.1 537.6L161.6 541.1M156.7 538.9L160.2 542.4M156.2 540.3L152.7 543.8M157.6 541.6L154.1 545.1M158.9 542.9L155.4 546.4M151.4 544.3L154.9 547.8M150.1 545.6L153.6 549.1M148.7 546.9L152.2 550.4M148.2 548.2L144.7 551.7M149.6 549.6L146.1 553.1M150.9 550.9L147.4 554.4M143.4 552.2L146.9 555.7M142.1 553.6L145.6 557.1M140.7 554.9L144.2 558.4M140.2 556.2L136.7 559.7M141.6 557.6L138.1 561.1M142.9 558.9L139.4 562.4M167.4 536.3L170.9 539.8M166.0 537.6L169.5 541.1M164.7 538.9L168.2 542.4M164.2 540.3L160.7 543.8M165.6 541.6L162.1 545.1M166.9 542.9L163.4 546.4M159.4 544.3L162.9 547.8M158.1 545.6L161.6 549.1M156.7 546.9L160.2 550.4M156.2 548.2L152.7 551.7M157.6 549.6L154.1 553.1M158.9 550.9L155.4 554.4M151.4 552.2L154.9 555.7M150.1 553.6L153.6 557.1M148.7 554.9L152.2 558.4M148.2 556.2L144.7 559.7M149.6 557.6L146.1 561.1M150.9 558.9L147.4 562.4M175.4 536.3L178.9 539.8M174.0 537.6L177.5 541.1M172.7 538.9L176.2 542.4M172.2 540.3L168.7 543.8M173.5 541.6L170.0 545.1M174.9 542.9L171.4 546.4M167.4 544.3L170.9 547.8M166.0 545.6L169.5 549.1M164.7 546.9L168.2 550.4M164.2 548.2L160.7 551.7M165.6 549.6L162.1 553.1M166.9 550.9L163.4 554.4M159.4 552.2L162.9 555.7M158.1 553.6L161.6 557.1M156.7 554.9L160.2 558.4M156.2 556.2L152.7 559.7M157.6 557.6L154.1 561.1M158.9 558.9L155.4 562.4M183.4 536.3L186.9 539.8M182.0 537.6L185.5 541.1M180.7 538.9L184.2 542.4M180.2 540.3L176.7 543.8M181.5 541.6L178.0 545.1M182.9 542.9L179.4 546.4M175.4 544.3L178.9 547.8M174.0 545.6L177.5 549.1M172.7 546.9L176.2 550.4M172.2 548.2L168.7 551.7M173.5 549.6L170.0 553.1M174.9 550.9L171.4 554.4M167.4 552.2L170.9 555.7M166.0 553.6L169.5 557.1M164.7 554.9L168.2 558.4M164.2 556.2L160.7 559.7M165.6 557.6L162.1 561.1M166.9 558.9L163.4 562.4M191.3 536.3L194.8 539.8M190.0 537.6L193.5 541.1M188.7 538.9L192.2 542.4M188.2 540.3L184.7 543.8M189.5 541.6L186.0 545.1M190.9 542.9L187.4 546.4M183.4 544.3L186.9 547.8M182.0 545.6L185.5 549.1M180.7 546.9L184.2 550.4M180.2 548.2L176.7 551.7M181.5 549.6L178.0 553.1M182.9 550.9L179.4 554.4M175.4 552.2L178.9 555.7M174.0 553.6L177.5 557.1M172.7 554.9L176.2 558.4M172.2 556.2L168.7 559.7M173.5 557.6L170.0 561.1M174.9 558.9L171.4 562.4M199.3 536.3L202.8 539.8M198.0 537.6L201.5 541.1M196.7 538.9L200.2 542.4M196.2 540.3L192.7 543.8M197.5 541.6L194.0 545.1M198.8 542.9L195.3 546.4M191.3 544.3L194.8 547.8M190.0 545.6L193.5 549.1M188.7 546.9L192.2 550.4M188.2 548.2L184.7 551.7M189.5 549.6L186.0 553.1M190.9 550.9L187.4 554.4M183.4 552.2L186.9 555.7M182.0 553.6L185.5 557.1M180.7 554.9L184.2 558.4M180.2 556.2L176.7 559.7M181.5 557.6L178.0 561.1M182.9 558.9L179.4 562.4M207.3 536.3L210.8 539.8M206.0 537.6L209.5 541.1M204.7 538.9L208.2 542.4M204.2 540.3L200.7 543.8M205.5 541.6L202.0 545.1M206.8 542.9L203.3 546.4M199.3 544.3L202.8 547.8M198.0 545.6L201.5 549.1M196.7 546.9L200.2 550.4M196.2 548.2L192.7 551.7M197.5 549.6L194.0 553.1M198.8 550.9L195.3 554.4M191.3 552.2L194.8 555.7M190.0 553.6L193.5 557.1M188.7 554.9L192.2 558.4M188.2 556.2L184.7 559.7M189.5 557.6L186.0 561.1M190.9 558.9L187.4 562.4M215.3 536.3L218.8 539.8M214.0 537.6L217.5 541.1M212.7 538.9L216.2 542.4M212.2 540.3L208.7 543.8M213.5 541.6L210.0 545.1M214.8 542.9L211.3 546.4M207.3 544.3L210.8 547.8M206.0 545.6L209.5 549.1M204.7 546.9L208.2 550.4M204.2 548.2L200.7 551.7M205.5 549.6L202.0 553.1M206.8 550.9L203.3 554.4M199.3 552.2L202.8 555.7M198.0 553.6L201.5 557.1M196.7 554.9L200.2 558.4M196.2 556.2L192.7 559.7M197.5 557.6L194.0 561.1M198.8 558.9L195.3 562.4M223.3 536.3L226.8 539.8M222.0 537.6L225.5 541.1M220.6 538.9L224.1 542.4M220.2 540.3L216.7 543.8M221.5 541.6L218.0 545.1M222.8 542.9L219.3 546.4M215.3 544.3L218.8 547.8M214.0 545.6L217.5 549.1M212.7 546.9L216.2 550.4M212.2 548.2L208.7 551.7M213.5 549.6L210.0 553.1M214.8 550.9L211.3 554.4M207.3 552.2L210.8 555.7M206.0 553.6L209.5 557.1M204.7 554.9L208.2 558.4M204.2 556.2L200.7 559.7M205.5 557.6L202.0 561.1M206.8 558.9L203.3 562.4M231.3 536.3L234.8 539.8M230.0 537.6L233.5 541.1M228.6 538.9L232.1 542.4M228.1 540.3L224.6 543.8M229.5 541.6L226.0 545.1M230.8 542.9L227.3 546.4M223.3 544.3L226.8 547.8M222.0 545.6L225.5 549.1M220.6 546.9L224.1 550.4M220.2 548.2L216.7 551.7M221.5 549.6L218.0 553.1M222.8 550.9L219.3 554.4M215.3 552.2L218.8 555.7M214.0 553.6L217.5 557.1M212.7 554.9L216.2 558.4M212.2 556.2L208.7 559.7M213.5 557.6L210.0 561.1M214.8 558.9L211.3 562.4M239.3 536.3L242.8 539.8M238.0 537.6L241.5 541.1M236.6 538.9L240.1 542.4M236.1 540.3L232.6 543.8M237.5 541.6L234.0 545.1M238.8 542.9L235.3 546.4M231.3 544.3L234.8 547.8M230.0 545.6L233.5 549.1M228.6 546.9L232.1 550.4M228.1 548.2L224.6 551.7M229.5 549.6L226.0 553.1M230.8 550.9L227.3 554.4M223.3 552.2L226.8 555.7M222.0 553.6L225.5 557.1M220.6 554.9L224.1 558.4M220.2 556.2L216.7 559.7M221.5 557.6L218.0 561.1M222.8 558.9L219.3 562.4M247.3 536.3L250.8 539.8M245.9 537.6L249.4 541.1M244.6 538.9L248.1 542.4M244.1 540.3L240.6 543.8M245.5 541.6L242.0 545.1M246.8 542.9L243.3 546.4M239.3 544.3L242.8 547.8M238.0 545.6L241.5 549.1M236.6 546.9L240.1 550.4M236.1 548.2L232.6 551.7M237.5 549.6L234.0 553.1M238.8 550.9L235.3 554.4M231.3 552.2L234.8 555.7M230.0 553.6L233.5 557.1M228.6 554.9L232.1 558.4M228.1 556.2L224.6 559.7M229.5 557.6L226.0 561.1M230.8 558.9L227.3 562.4M255.3 536.3L258.8 539.8M253.9 537.6L257.4 541.1M252.6 538.9L256.1 542.4M252.1 540.3L248.6 543.8M253.4 541.6L249.9 545.1M254.8 542.9L251.3 546.4M247.3 544.3L250.8 547.8M245.9 545.6L249.4 549.1M244.6 546.9L248.1 550.4M244.1 548.2L240.6 551.7M245.5 549.6L242.0 553.1M246.8 550.9L243.3 554.4M239.3 552.2L242.8 555.7M238.0 553.6L241.5 557.1M236.6 554.9L240.1 558.4M236.1 556.2L232.6 559.7M237.5 557.6L234.0 561.1M238.8 558.9L235.3 562.4M263.3 536.3L266.8 539.8M261.9 537.6L265.4 541.1M260.6 538.9L264.1 542.4M260.1 540.3L256.6 543.8M261.4 541.6L257.9 545.1M262.8 542.9L259.3 546.4M255.3 544.3L258.8 547.8M253.9 545.6L257.4 549.1M252.6 546.9L256.1 550.4M252.1 548.2L248.6 551.7M253.4 549.6L249.9 553.1M254.8 550.9L251.3 554.4M247.3 552.2L250.8 555.7M245.9 553.6L249.4 557.1M244.6 554.9L248.1 558.4M244.1 556.2L240.6 559.7M245.5 557.6L242.0 561.1M246.8 558.9L243.3 562.4M271.3 536.3L274.8 539.8M269.9 537.6L273.4 541.1M268.6 538.9L272.1 542.4M268.1 540.3L264.6 543.8M269.4 541.6L265.9 545.1M270.8 542.9L267.3 546.4M263.3 544.3L266.8 547.8M261.9 545.6L265.4 549.1M260.6 546.9L264.1 550.4M260.1 548.2L256.6 551.7M261.4 549.6L257.9 553.1M262.8 550.9L259.3 554.4M255.3 552.2L258.8 555.7M253.9 553.6L257.4 557.1M252.6 554.9L256.1 558.4M252.1 556.2L248.6 559.7M253.4 557.6L249.9 561.1M254.8 558.9L251.3 562.4M279.2 536.3L282.7 539.8M277.9 537.6L281.4 541.1M276.6 538.9L280.1 542.4M276.1 540.3L272.6 543.8M277.4 541.6L273.9 545.1M278.7 542.9L275.2 546.4M271.3 544.3L274.8 547.8M269.9 545.6L273.4 549.1M268.6 546.9L272.1 550.4M268.1 548.2L264.6 551.7M269.4 549.6L265.9 553.1M270.8 550.9L267.3 554.4M263.3 552.2L266.8 555.7M261.9 553.6L265.4 557.1M260.6 554.9L264.1 558.4M260.1 556.2L256.6 559.7M261.4 557.6L257.9 561.1M262.8 558.9L259.3 562.4M287.2 536.3L290.7 539.8M285.9 537.6L289.4 541.1M284.6 538.9L288.1 542.4M284.1 540.3L280.6 543.8M285.4 541.6L281.9 545.1M286.7 542.9L283.2 546.4M279.2 544.3L282.7 547.8M277.9 545.6L281.4 549.1M276.6 546.9L280.1 550.4M276.1 548.2L272.6 551.7M277.4 549.6L273.9 553.1M278.7 550.9L275.2 554.4M271.3 552.2L274.8 555.7M269.9 553.6L273.4 557.1M268.6 554.9L272.1 558.4M268.1 556.2L264.6 559.7M269.4 557.6L265.9 561.1M270.8 558.9L267.3 562.4M295.2 536.3L298.7 539.8M293.9 537.6L297.4 541.1M292.6 538.9L296.1 542.4M292.1 540.3L288.6 543.8M293.4 541.6L289.9 545.1M294.7 542.9L291.2 546.4M287.2 544.3L290.7 547.8M285.9 545.6L289.4 549.1M284.6 546.9L288.1 550.4M284.1 548.2L280.6 551.7M285.4 549.6L281.9 553.1M286.7 550.9L283.2 554.4M279.2 552.2L282.7 555.7M277.9 553.6L281.4 557.1M276.6 554.9L280.1 558.4M276.1 556.2L272.6 559.7M277.4 557.6L273.9 561.1M278.7 558.9L275.2 562.4M303.2 536.3L306.7 539.8M301.9 537.6L305.4 541.1M300.5 538.9L304.1 542.4M300.1 540.3L296.6 543.8M301.4 541.6L297.9 545.1M302.7 542.9L299.2 546.4M295.2 544.3L298.7 547.8M293.9 545.6L297.4 549.1M292.6 546.9L296.1 550.4M292.1 548.2L288.6 551.7M293.4 549.6L289.9 553.1M294.7 550.9L291.2 554.4M287.2 552.2L290.7 555.7M285.9 553.6L289.4 557.1M284.6 554.9L288.1 558.4M284.1 556.2L280.6 559.7M285.4 557.6L281.9 561.1M286.7 558.9L283.2 562.4M311.2 536.3L314.7 539.8M309.9 537.6L313.4 541.1M308.5 538.9L312.0 542.4M308.0 540.3L304.5 543.8M309.4 541.6L305.9 545.1M310.7 542.9L307.2 546.4M303.2 544.3L306.7 547.8M301.9 545.6L305.4 549.1M300.5 546.9L304.1 550.4M300.1 548.2L296.6 551.7M301.4 549.6L297.9 553.1M302.7 550.9L299.2 554.4M295.2 552.2L298.7 555.7M293.9 553.6L297.4 557.1M292.6 554.9L296.1 558.4M292.1 556.2L288.6 559.7M293.4 557.6L289.9 561.1M294.7 558.9L291.2 562.4M319.2 536.3L322.7 539.8M317.9 537.6L321.4 541.1M316.5 538.9L320.0 542.4M316.0 540.3L312.5 543.8M317.4 541.6L313.9 545.1M318.7 542.9L315.2 546.4M311.2 544.3L314.7 547.8M309.9 545.6L313.4 549.1M308.5 546.9L312.0 550.4M308.0 548.2L304.5 551.7M309.4 549.6L305.9 553.1M310.7 550.9L307.2 554.4M303.2 552.2L306.7 555.7M301.9 553.6L305.4 557.1M300.5 554.9L304.1 558.4M300.1 556.2L296.6 559.7M301.4 557.6L297.9 561.1M302.7 558.9L299.2 562.4M327.2 536.3L330.7 539.8M325.9 537.6L329.4 541.1M324.5 538.9L328.0 542.4M324.0 540.3L320.5 543.8M325.4 541.6L321.9 545.1M326.7 542.9L323.2 546.4M319.2 544.3L322.7 547.8M317.9 545.6L321.4 549.1M316.5 546.9L320.0 550.4M316.0 548.2L312.5 551.7M317.4 549.6L313.9 553.1M318.7 550.9L315.2 554.4M311.2 552.2L314.7 555.7M309.9 553.6L313.4 557.1M308.5 554.9L312.0 558.4M308.0 556.2L304.5 559.7M309.4 557.6L305.9 561.1M310.7 558.9L307.2 562.4M335.2 536.3L338.7 539.8M333.8 537.6L337.3 541.1M332.5 538.9L336.0 542.4M332.0 540.3L328.5 543.8M333.3 541.6L329.8 545.1M334.7 542.9L331.2 546.4M327.2 544.3L330.7 547.8M325.9 545.6L329.4 549.1M324.5 546.9L328.0 550.4M324.0 548.2L320.5 551.7M325.4 549.6L321.9 553.1M326.7 550.9L323.2 554.4M319.2 552.2L322.7 555.7M317.9 553.6L321.4 557.1M316.5 554.9L320.0 558.4M316.0 556.2L312.5 559.7M317.4 557.6L313.9 561.1M318.7 558.9L315.2 562.4M343.2 536.3L346.7 539.8M341.8 537.6L345.3 541.1M340.5 538.9L344.0 542.4M340.0 540.3L336.5 543.8M341.3 541.6L337.8 545.1M342.7 542.9L339.2 546.4M335.2 544.3L338.7 547.8M333.8 545.6L337.3 549.1M332.5 546.9L336.0 550.4M332.0 548.2L328.5 551.7M333.3 549.6L329.8 553.1M334.7 550.9L331.2 554.4M327.2 552.2L330.7 555.7M325.9 553.6L329.4 557.1M324.5 554.9L328.0 558.4M324.0 556.2L320.5 559.7M325.4 557.6L321.9 561.1M326.7 558.9L323.2 562.4M351.2 536.3L354.7 539.8M349.8 537.6L353.3 541.1M348.5 538.9L352.0 542.4M348.0 540.3L344.5 543.8M349.3 541.6L345.8 545.1M350.7 542.9L347.2 546.4M343.2 544.3L346.7 547.8M341.8 545.6L345.3 549.1M340.5 546.9L344.0 550.4M340.0 548.2L336.5 551.7M341.3 549.6L337.8 553.1M342.7 550.9L339.2 554.4M335.2 552.2L338.7 555.7M333.8 553.6L337.3 557.1M332.5 554.9L336.0 558.4M332.0 556.2L328.5 559.7M333.3 557.6L329.8 561.1M334.7 558.9L331.2 562.4M359.1 536.3L362.6 539.8M357.8 537.6L361.3 541.1M356.5 538.9L360.0 542.4M356.0 540.3L352.5 543.8M357.3 541.6L353.8 545.1M358.7 542.9L355.2 546.4M351.2 544.3L354.7 547.8M349.8 545.6L353.3 549.1M348.5 546.9L352.0 550.4M348.0 548.2L344.5 551.7M349.3 549.6L345.8 553.1M350.7 550.9L347.2 554.4M343.2 552.2L346.7 555.7M341.8 553.6L345.3 557.1M340.5 554.9L344.0 558.4M340.0 556.2L336.5 559.7M341.3 557.6L337.8 561.1M342.7 558.9L339.2 562.4M367.1 536.3L370.6 539.8M365.8 537.6L369.3 541.1M364.5 538.9L368.0 542.4M364.0 540.3L360.5 543.8M365.3 541.6L361.8 545.1M366.6 542.9L363.1 546.4M359.1 544.3L362.6 547.8M357.8 545.6L361.3 549.1M356.5 546.9L360.0 550.4M356.0 548.2L352.5 551.7M357.3 549.6L353.8 553.1M358.7 550.9L355.2 554.4M351.2 552.2L354.7 555.7M349.8 553.6L353.3 557.1M348.5 554.9L352.0 558.4M348.0 556.2L344.5 559.7M349.3 557.6L345.8 561.1M350.7 558.9L347.2 562.4M375.1 536.3L378.6 539.8M373.8 537.6L377.3 541.1M372.5 538.9L376.0 542.4M372.0 540.3L368.5 543.8M373.3 541.6L369.8 545.1M374.6 542.9L371.1 546.4M367.1 544.3L370.6 547.8M365.8 545.6L369.3 549.1M364.5 546.9L368.0 550.4M364.0 548.2L360.5 551.7M365.3 549.6L361.8 553.1M366.6 550.9L363.1 554.4M359.1 552.2L362.6 555.7M357.8 553.6L361.3 557.1M356.5 554.9L360.0 558.4M356.0 556.2L352.5 559.7M357.3 557.6L353.8 561.1M358.7 558.9L355.2 562.4M383.1 536.3L386.6 539.8M381.8 537.6L385.3 541.1M380.5 538.9L384.0 542.4M380.0 540.3L376.5 543.8M381.3 541.6L377.8 545.1M382.6 542.9L379.1 546.4M375.1 544.3L378.6 547.8M373.8 545.6L377.3 549.1M372.5 546.9L376.0 550.4M372.0 548.2L368.5 551.7M373.3 549.6L369.8 553.1M374.6 550.9L371.1 554.4M367.1 552.2L370.6 555.7M365.8 553.6L369.3 557.1M364.5 554.9L368.0 558.4M364.0 556.2L360.5 559.7M365.3 557.6L361.8 561.1M366.6 558.9L363.1 562.4M391.1 536.3L394.6 539.8M389.8 537.6L393.3 541.1M388.4 538.9L391.9 542.4M387.9 540.3L384.4 543.8M389.3 541.6L385.8 545.1M390.6 542.9L387.1 546.4M383.1 544.3L386.6 547.8M381.8 545.6L385.3 549.1M380.5 546.9L384.0 550.4M380.0 548.2L376.5 551.7M381.3 549.6L377.8 553.1M382.6 550.9L379.1 554.4M375.1 552.2L378.6 555.7M373.8 553.6L377.3 557.1M372.5 554.9L376.0 558.4M372.0 556.2L368.5 559.7M373.3 557.6L369.8 561.1M374.6 558.9L371.1 562.4M399.1 536.3L402.6 539.8M397.8 537.6L401.3 541.1M396.4 538.9L399.9 542.4M395.9 540.3L392.4 543.8M397.3 541.6L393.8 545.1M398.6 542.9L395.1 546.4M391.1 544.3L394.6 547.8M389.8 545.6L393.3 549.1M388.4 546.9L391.9 550.4M387.9 548.2L384.4 551.7M389.3 549.6L385.8 553.1M390.6 550.9L387.1 554.4M383.1 552.2L386.6 555.7M381.8 553.6L385.3 557.1M380.5 554.9L384.0 558.4M380.0 556.2L376.5 559.7M381.3 557.6L377.8 561.1M382.6 558.9L379.1 562.4M407.1 536.3L410.6 539.8M405.8 537.6L409.3 541.1M404.4 538.9L407.9 542.4M403.9 540.3L400.4 543.8M405.3 541.6L401.8 545.1M406.6 542.9L403.1 546.4M399.1 544.3L402.6 547.8M397.8 545.6L401.3 549.1M396.4 546.9L399.9 550.4M395.9 548.2L392.4 551.7M397.3 549.6L393.8 553.1M398.6 550.9L395.1 554.4M391.1 552.2L394.6 555.7M389.8 553.6L393.3 557.1M388.4 554.9L391.9 558.4M387.9 556.2L384.4 559.7M389.3 557.6L385.8 561.1M390.6 558.9L387.1 562.4M415.1 536.3L418.6 539.8M413.7 537.6L417.2 541.1M412.4 538.9L415.9 542.4M411.9 540.3L408.4 543.8M413.3 541.6L409.8 545.1M414.6 542.9L411.1 546.4M407.1 544.3L410.6 547.8M405.8 545.6L409.3 549.1M404.4 546.9L407.9 550.4M403.9 548.2L400.4 551.7M405.3 549.6L401.8 553.1M406.6 550.9L403.1 554.4M399.1 552.2L402.6 555.7M397.8 553.6L401.3 557.1M396.4 554.9L399.9 558.4M395.9 556.2L392.4 559.7M397.3 557.6L393.8 561.1M398.6 558.9L395.1 562.4M423.1 536.3L426.6 539.8M421.7 537.6L425.2 541.1M420.4 538.9L423.9 542.4M419.9 540.3L416.4 543.8M421.2 541.6L417.7 545.1M422.6 542.9L419.1 546.4M415.1 544.3L418.6 547.8M413.7 545.6L417.2 549.1M412.4 546.9L415.9 550.4M411.9 548.2L408.4 551.7M413.3 549.6L409.8 553.1M414.6 550.9L411.1 554.4M407.1 552.2L410.6 555.7M405.8 553.6L409.3 557.1M404.4 554.9L407.9 558.4M403.9 556.2L400.4 559.7M405.3 557.6L401.8 561.1M406.6 558.9L403.1 562.4M431.1 536.3L434.6 539.8M429.7 537.6L433.2 541.1M428.4 538.9L431.9 542.4M427.9 540.3L424.4 543.8M429.2 541.6L425.7 545.1M430.6 542.9L427.1 546.4M423.1 544.3L426.6 547.8M421.7 545.6L425.2 549.1M420.4 546.9L423.9 550.4M419.9 548.2L416.4 551.7M421.2 549.6L417.7 553.1M422.6 550.9L419.1 554.4M415.1 552.2L418.6 555.7M413.7 553.6L417.2 557.1M412.4 554.9L415.9 558.4M411.9 556.2L408.4 559.7M413.3 557.6L409.8 561.1M414.6 558.9L411.1 562.4M439.0 536.3L442.5 539.8M437.7 537.6L441.2 541.1M436.4 538.9L439.9 542.4M435.9 540.3L432.4 543.8M437.2 541.6L433.7 545.1M438.6 542.9L435.1 546.4M431.1 544.3L434.6 547.8M429.7 545.6L433.2 549.1M428.4 546.9L431.9 550.4M427.9 548.2L424.4 551.7M429.2 549.6L425.7 553.1M430.6 550.9L427.1 554.4M423.1 552.2L426.6 555.7M421.7 553.6L425.2 557.1M420.4 554.9L423.9 558.4M419.9 556.2L416.4 559.7M421.2 557.6L417.7 561.1M422.6 558.9L419.1 562.4M447.0 536.3L450.5 539.8M445.7 537.6L449.2 541.1M444.4 538.9L447.9 542.4M443.9 540.3L440.4 543.8M445.2 541.6L441.7 545.1M446.5 542.9L443.0 546.4M439.0 544.3L442.5 547.8M437.7 545.6L441.2 549.1M436.4 546.9L439.9 550.4M435.9 548.2L432.4 551.7M437.2 549.6L433.7 553.1M438.6 550.9L435.1 554.4M431.1 552.2L434.6 555.7M429.7 553.6L433.2 557.1M428.4 554.9L431.9 558.4M427.9 556.2L424.4 559.7M429.2 557.6L425.7 561.1M430.6 558.9L427.1 562.4M455.0 536.3L458.5 539.8M453.7 537.6L457.2 541.1M452.4 538.9L455.9 542.4M451.9 540.3L448.4 543.8M453.2 541.6L449.7 545.1M454.5 542.9L451.0 546.4M447.0 544.3L450.5 547.8M445.7 545.6L449.2 549.1M444.4 546.9L447.9 550.4M443.9 548.2L440.4 551.7M445.2 549.6L441.7 553.1M446.5 550.9L443.0 554.4M439.0 552.2L442.5 555.7M437.7 553.6L441.2 557.1M436.4 554.9L439.9 558.4M435.9 556.2L432.4 559.7M437.2 557.6L433.7 561.1M438.6 558.9L435.1 562.4M463.0 536.3L466.5 539.8M461.7 537.6L465.2 541.1M460.4 538.9L463.9 542.4M459.9 540.3L456.4 543.8M461.2 541.6L457.7 545.1M462.5 542.9L459.0 546.4M455.0 544.3L458.5 547.8M453.7 545.6L457.2 549.1M452.4 546.9L455.9 550.4M451.9 548.2L448.4 551.7M453.2 549.6L449.7 553.1M454.5 550.9L451.0 554.4M447.0 552.2L450.5 555.7M445.7 553.6L449.2 557.1M444.4 554.9L447.9 558.4M443.9 556.2L440.4 559.7M445.2 557.6L441.7 561.1M446.5 558.9L443.0 562.4M471.0 536.3L474.5 539.8M469.7 537.6L473.2 541.1M468.3 538.9L471.8 542.4M467.9 540.3L464.4 543.8M469.2 541.6L465.7 545.1M470.5 542.9L467.0 546.4M463.0 544.3L466.5 547.8M461.7 545.6L465.2 549.1M460.4 546.9L463.9 550.4M459.9 548.2L456.4 551.7M461.2 549.6L457.7 553.1M462.5 550.9L459.0 554.4M455.0 552.2L458.5 555.7M453.7 553.6L457.2 557.1M452.4 554.9L455.9 558.4M451.9 556.2L448.4 559.7M453.2 557.6L449.7 561.1M454.5 558.9L451.0 562.4M471.0 544.3L474.5 547.8M469.7 545.6L473.2 549.1M468.3 546.9L471.8 550.4M467.9 548.2L464.4 551.7M469.2 549.6L465.7 553.1M470.5 550.9L467.0 554.4M463.0 552.2L466.5 555.7M461.7 553.6L465.2 557.1M460.4 554.9L463.9 558.4M459.9 556.2L456.4 559.7M461.2 557.6L457.7 561.1M462.5 558.9L459.0 562.4M471.0 552.2L474.5 555.7M469.7 553.6L473.2 557.1M468.3 554.9L471.8 558.4M467.9 556.2L464.4 559.7M469.2 557.6L465.7 561.1M470.5 558.9L467.0 562.4" stroke="#fff" stroke-width="1.2" fill="none"/>
<path d="M68.1 543.2H466" stroke="#333" stroke-width="0.9"/>
<path d="M443.4 465V502M443.4 514.5V543.2" stroke="#93b4de" stroke-width="0.7" fill="none"/>
<path d="M442 466.4L444.8 463.6M442 544.4000000000001L444.8 541.6" stroke="#93b4de" stroke-width="0.6" fill="none"/>
<text transform="translate(445.2 508.3) rotate(-90)" font-family="'Liberation Sans', sans-serif" font-size="5.2" fill="#93b4de" text-anchor="middle">2,75</text>
<text x="166.3" y="577.5" font-family="'Liberation Serif', serif" font-size="16.6" fill="#151515" stroke="#151515" stroke-width="0.18" textLength="56.9" lengthAdjust="spacingAndGlyphs">RETRO</text>
<text x="227.5" y="577.5" font-family="'Liberation Serif', serif" font-size="16.6" fill="#151515" stroke="#151515" stroke-width="0.18" textLength="95.7" lengthAdjust="spacingAndGlyphs">PROSPETTO</text>
<g fill="#fff" fill-opacity="0.6" stroke="none">
<circle cx="313" cy="450.7" r="24.75" fill="none" stroke="#fff" stroke-opacity="0.6" stroke-width="11.3"/>
<path d="M303 446.5L314 435.5L325 446.5V462.5H303Z" fill="none" stroke="#fff" stroke-opacity="0.6" stroke-width="3" stroke-linejoin="round"/>
<text x="357.5" y="466" font-family="'Liberation Sans', sans-serif" font-weight="bold" font-size="60" textLength="150" lengthAdjust="spacingAndGlyphs">casa.it</text>
</g>
</svg>
</body></html>
